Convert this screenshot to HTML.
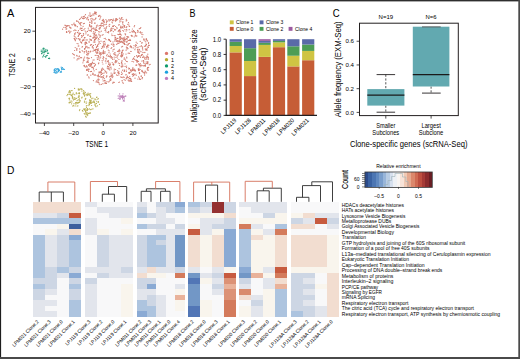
<!DOCTYPE html>
<html><head><meta charset="utf-8">
<style>
html,body{margin:0;padding:0;background:#fff;}
body{width:520px;height:359px;overflow:hidden;position:relative;}
svg{position:absolute;left:0;top:0;font-family:"Liberation Sans",sans-serif;}
</style></head><body>
<svg width="520" height="359" viewBox="0 0 520 359">
<rect x="0" y="0" width="520" height="359" fill="#fff"/>
<text x="7.00" y="16.70" font-size="11.2" textLength="7.30" lengthAdjust="spacingAndGlyphs">A</text>
<rect x="35.5" y="7.4" width="122.7" height="115.6" fill="none" stroke="#231f20" stroke-width="1"/>
<line x1="32.40" y1="31.20" x2="35.50" y2="31.20" stroke="#231f20" stroke-width="0.8"/>
<text x="30.60" y="33.40" font-size="6.2" text-anchor="end">20</text>
<line x1="32.40" y1="59.00" x2="35.50" y2="59.00" stroke="#231f20" stroke-width="0.8"/>
<text x="30.60" y="61.20" font-size="6.2" text-anchor="end">0</text>
<line x1="32.40" y1="86.60" x2="35.50" y2="86.60" stroke="#231f20" stroke-width="0.8"/>
<text x="30.60" y="88.80" font-size="6.2" text-anchor="end">–20</text>
<line x1="32.40" y1="113.90" x2="35.50" y2="113.90" stroke="#231f20" stroke-width="0.8"/>
<text x="30.60" y="116.10" font-size="6.2" text-anchor="end">–40</text>
<line x1="44.40" y1="123.00" x2="44.40" y2="126.00" stroke="#231f20" stroke-width="0.8"/>
<text x="44.40" y="135.00" font-size="6.2" text-anchor="middle">–40</text>
<line x1="73.70" y1="123.00" x2="73.70" y2="126.00" stroke="#231f20" stroke-width="0.8"/>
<text x="73.70" y="135.00" font-size="6.2" text-anchor="middle">–20</text>
<line x1="103.30" y1="123.00" x2="103.30" y2="126.00" stroke="#231f20" stroke-width="0.8"/>
<text x="103.30" y="135.00" font-size="6.2" text-anchor="middle">0</text>
<line x1="132.90" y1="123.00" x2="132.90" y2="126.00" stroke="#231f20" stroke-width="0.8"/>
<text x="132.90" y="135.00" font-size="6.2" text-anchor="middle">20</text>
<text x="14.90" y="65.00" font-size="8.7" text-anchor="middle" textLength="23.40" lengthAdjust="spacingAndGlyphs" transform="rotate(-90 14.90 65.00)">TSNE 2</text>
<text x="96.70" y="146.60" font-size="8.5" text-anchor="middle" textLength="22.60" lengthAdjust="spacingAndGlyphs">TSNE 1</text>
<g fill="#cc6b5d" opacity="0.9">
<circle cx="90.0" cy="22.5" r="0.6"/><circle cx="98.9" cy="72.1" r="0.6"/><circle cx="66.0" cy="27.8" r="0.6"/><circle cx="88.7" cy="71.4" r="0.6"/><circle cx="111.5" cy="56.7" r="0.6"/><circle cx="111.0" cy="57.2" r="0.6"/><circle cx="88.0" cy="70.1" r="0.6"/><circle cx="91.6" cy="44.7" r="0.6"/><circle cx="75.2" cy="47.6" r="0.6"/><circle cx="131.4" cy="71.2" r="0.6"/><circle cx="130.7" cy="72.1" r="0.6"/><circle cx="145.0" cy="46.1" r="0.6"/><circle cx="86.1" cy="39.9" r="0.6"/><circle cx="87.2" cy="39.9" r="0.6"/><circle cx="82.8" cy="40.2" r="0.6"/><circle cx="84.1" cy="40.1" r="0.6"/><circle cx="138.3" cy="31.8" r="0.6"/><circle cx="137.5" cy="32.1" r="0.6"/><circle cx="77.5" cy="32.4" r="0.6"/><circle cx="146.2" cy="61.9" r="0.6"/><circle cx="121.8" cy="52.4" r="0.6"/><circle cx="121.9" cy="53.0" r="0.6"/><circle cx="80.3" cy="23.2" r="0.6"/><circle cx="79.4" cy="23.7" r="0.6"/><circle cx="80.1" cy="39.0" r="0.6"/><circle cx="79.7" cy="39.4" r="0.6"/><circle cx="147.8" cy="46.8" r="0.6"/><circle cx="148.4" cy="47.3" r="0.6"/><circle cx="146.0" cy="50.2" r="0.6"/><circle cx="87.9" cy="58.9" r="0.6"/><circle cx="108.5" cy="68.1" r="0.6"/><circle cx="108.5" cy="69.0" r="0.6"/><circle cx="82.4" cy="41.0" r="0.6"/><circle cx="103.8" cy="25.1" r="0.6"/><circle cx="103.5" cy="26.1" r="0.6"/><circle cx="80.4" cy="28.2" r="0.6"/><circle cx="142.1" cy="36.9" r="0.6"/><circle cx="124.4" cy="26.1" r="0.6"/><circle cx="145.4" cy="64.0" r="0.6"/><circle cx="145.4" cy="65.1" r="0.6"/><circle cx="119.8" cy="36.9" r="0.6"/><circle cx="63.9" cy="27.4" r="0.6"/><circle cx="127.4" cy="77.2" r="0.6"/><circle cx="126.8" cy="77.9" r="0.6"/><circle cx="138.8" cy="68.7" r="0.6"/><circle cx="116.0" cy="20.3" r="0.6"/><circle cx="110.8" cy="29.8" r="0.6"/><circle cx="111.9" cy="29.9" r="0.6"/><circle cx="147.4" cy="56.1" r="0.6"/><circle cx="104.3" cy="80.5" r="0.6"/><circle cx="103.2" cy="80.9" r="0.6"/><circle cx="96.3" cy="34.9" r="0.6"/><circle cx="144.7" cy="58.3" r="0.6"/><circle cx="145.1" cy="59.5" r="0.6"/><circle cx="96.5" cy="47.4" r="0.6"/><circle cx="91.0" cy="25.9" r="0.6"/><circle cx="91.6" cy="26.1" r="0.6"/><circle cx="96.1" cy="49.3" r="0.6"/><circle cx="95.6" cy="49.4" r="0.6"/><circle cx="70.9" cy="31.3" r="0.6"/><circle cx="133.7" cy="73.5" r="0.6"/><circle cx="134.0" cy="74.4" r="0.6"/><circle cx="86.6" cy="70.5" r="0.6"/><circle cx="117.7" cy="70.6" r="0.6"/><circle cx="142.5" cy="57.3" r="0.6"/><circle cx="79.5" cy="34.2" r="0.6"/><circle cx="79.2" cy="34.7" r="0.6"/><circle cx="105.7" cy="83.2" r="0.6"/><circle cx="106.4" cy="83.4" r="0.6"/><circle cx="110.2" cy="76.4" r="0.6"/><circle cx="109.7" cy="76.9" r="0.6"/><circle cx="118.2" cy="41.2" r="0.6"/><circle cx="117.1" cy="41.0" r="0.6"/><circle cx="99.9" cy="15.3" r="0.6"/><circle cx="99.2" cy="15.9" r="0.6"/><circle cx="101.6" cy="23.2" r="0.6"/><circle cx="102.8" cy="23.1" r="0.6"/><circle cx="80.4" cy="24.6" r="0.6"/><circle cx="81.0" cy="25.6" r="0.6"/><circle cx="88.3" cy="28.2" r="0.6"/><circle cx="95.5" cy="35.0" r="0.6"/><circle cx="96.7" cy="35.8" r="0.6"/><circle cx="140.4" cy="57.3" r="0.6"/><circle cx="122.5" cy="70.2" r="0.6"/><circle cx="146.3" cy="38.6" r="0.6"/><circle cx="146.2" cy="39.4" r="0.6"/><circle cx="128.0" cy="48.6" r="0.6"/><circle cx="83.5" cy="16.5" r="0.6"/><circle cx="84.0" cy="17.1" r="0.6"/><circle cx="142.0" cy="32.6" r="0.6"/><circle cx="74.9" cy="29.9" r="0.6"/><circle cx="73.9" cy="30.6" r="0.6"/><circle cx="69.8" cy="27.1" r="0.6"/><circle cx="70.5" cy="27.9" r="0.6"/><circle cx="101.3" cy="31.2" r="0.6"/><circle cx="85.0" cy="37.6" r="0.6"/><circle cx="84.5" cy="37.9" r="0.6"/><circle cx="105.1" cy="44.4" r="0.6"/><circle cx="104.9" cy="45.1" r="0.6"/><circle cx="90.1" cy="36.1" r="0.6"/><circle cx="90.8" cy="36.4" r="0.6"/><circle cx="94.3" cy="40.4" r="0.6"/><circle cx="135.3" cy="32.7" r="0.6"/><circle cx="78.8" cy="38.5" r="0.6"/><circle cx="78.3" cy="38.8" r="0.6"/><circle cx="109.9" cy="64.5" r="0.6"/><circle cx="104.3" cy="78.6" r="0.6"/><circle cx="84.0" cy="65.6" r="0.6"/><circle cx="84.2" cy="66.1" r="0.6"/><circle cx="105.6" cy="71.5" r="0.6"/><circle cx="99.3" cy="51.8" r="0.6"/><circle cx="82.7" cy="30.3" r="0.6"/><circle cx="97.9" cy="49.5" r="0.6"/><circle cx="98.2" cy="50.3" r="0.6"/><circle cx="122.4" cy="50.3" r="0.6"/><circle cx="119.1" cy="43.0" r="0.6"/><circle cx="118.6" cy="43.5" r="0.6"/><circle cx="140.0" cy="46.6" r="0.6"/><circle cx="141.4" cy="45.9" r="0.6"/><circle cx="107.3" cy="61.5" r="0.6"/><circle cx="108.3" cy="61.9" r="0.6"/><circle cx="147.0" cy="57.3" r="0.6"/><circle cx="146.2" cy="57.9" r="0.6"/><circle cx="95.8" cy="28.1" r="0.6"/><circle cx="146.4" cy="59.0" r="0.6"/><circle cx="146.2" cy="63.6" r="0.6"/><circle cx="146.9" cy="63.3" r="0.6"/><circle cx="81.5" cy="42.4" r="0.6"/><circle cx="81.7" cy="43.1" r="0.6"/><circle cx="127.0" cy="48.9" r="0.6"/><circle cx="78.8" cy="45.9" r="0.6"/><circle cx="78.2" cy="46.0" r="0.6"/><circle cx="81.4" cy="42.3" r="0.6"/><circle cx="141.2" cy="76.4" r="0.6"/><circle cx="120.6" cy="39.3" r="0.6"/><circle cx="119.9" cy="39.4" r="0.6"/><circle cx="98.7" cy="76.4" r="0.6"/><circle cx="123.3" cy="26.0" r="0.6"/><circle cx="124.5" cy="26.2" r="0.6"/><circle cx="133.0" cy="67.9" r="0.6"/><circle cx="66.9" cy="26.0" r="0.6"/><circle cx="146.4" cy="56.1" r="0.6"/><circle cx="145.9" cy="57.5" r="0.6"/><circle cx="114.2" cy="70.9" r="0.6"/><circle cx="96.2" cy="29.9" r="0.6"/><circle cx="95.8" cy="30.2" r="0.6"/><circle cx="88.3" cy="62.5" r="0.6"/><circle cx="93.4" cy="69.1" r="0.6"/><circle cx="97.4" cy="59.3" r="0.6"/><circle cx="98.0" cy="59.3" r="0.6"/><circle cx="85.5" cy="17.6" r="0.6"/><circle cx="76.8" cy="20.6" r="0.6"/><circle cx="76.8" cy="21.4" r="0.6"/><circle cx="87.2" cy="53.1" r="0.6"/><circle cx="87.9" cy="53.6" r="0.6"/><circle cx="84.0" cy="29.7" r="0.6"/><circle cx="140.2" cy="28.4" r="0.6"/><circle cx="139.3" cy="28.7" r="0.6"/><circle cx="147.8" cy="54.2" r="0.6"/><circle cx="114.2" cy="57.1" r="0.6"/><circle cx="126.1" cy="78.8" r="0.6"/><circle cx="104.6" cy="41.3" r="0.6"/><circle cx="104.0" cy="41.7" r="0.6"/><circle cx="120.4" cy="42.1" r="0.6"/><circle cx="98.4" cy="74.8" r="0.6"/><circle cx="98.4" cy="75.3" r="0.6"/><circle cx="93.5" cy="68.2" r="0.6"/><circle cx="116.5" cy="39.0" r="0.6"/><circle cx="104.9" cy="70.6" r="0.6"/><circle cx="141.8" cy="34.2" r="0.6"/><circle cx="142.9" cy="34.6" r="0.6"/><circle cx="137.4" cy="57.3" r="0.6"/><circle cx="97.0" cy="49.6" r="0.6"/><circle cx="97.1" cy="49.8" r="0.6"/><circle cx="139.6" cy="73.6" r="0.6"/><circle cx="102.0" cy="73.7" r="0.6"/><circle cx="101.5" cy="74.4" r="0.6"/><circle cx="105.9" cy="24.6" r="0.6"/><circle cx="129.5" cy="68.4" r="0.6"/><circle cx="128.9" cy="69.1" r="0.6"/><circle cx="94.1" cy="70.8" r="0.6"/><circle cx="89.1" cy="64.4" r="0.6"/><circle cx="126.4" cy="71.3" r="0.6"/><circle cx="133.1" cy="70.2" r="0.6"/><circle cx="84.7" cy="48.5" r="0.6"/><circle cx="84.8" cy="49.0" r="0.6"/><circle cx="89.8" cy="39.0" r="0.6"/><circle cx="90.7" cy="39.7" r="0.6"/><circle cx="110.2" cy="54.0" r="0.6"/><circle cx="127.1" cy="38.7" r="0.6"/><circle cx="126.4" cy="38.6" r="0.6"/><circle cx="84.2" cy="58.0" r="0.6"/><circle cx="83.6" cy="59.1" r="0.6"/><circle cx="98.5" cy="38.5" r="0.6"/><circle cx="92.8" cy="19.0" r="0.6"/><circle cx="93.0" cy="19.9" r="0.6"/><circle cx="124.4" cy="44.4" r="0.6"/><circle cx="97.3" cy="30.5" r="0.6"/><circle cx="113.9" cy="53.7" r="0.6"/><circle cx="114.2" cy="54.3" r="0.6"/><circle cx="110.0" cy="80.6" r="0.6"/><circle cx="119.1" cy="42.1" r="0.6"/><circle cx="150.1" cy="64.4" r="0.6"/><circle cx="149.2" cy="64.8" r="0.6"/><circle cx="127.1" cy="45.0" r="0.6"/><circle cx="85.5" cy="14.7" r="0.6"/><circle cx="84.4" cy="16.2" r="0.6"/><circle cx="106.4" cy="24.1" r="0.6"/><circle cx="96.1" cy="55.3" r="0.6"/><circle cx="95.2" cy="55.3" r="0.6"/><circle cx="102.8" cy="73.3" r="0.6"/><circle cx="111.8" cy="34.0" r="0.6"/><circle cx="128.9" cy="25.8" r="0.6"/><circle cx="95.8" cy="29.7" r="0.6"/><circle cx="133.6" cy="58.0" r="0.6"/><circle cx="133.3" cy="58.4" r="0.6"/><circle cx="90.9" cy="30.7" r="0.6"/><circle cx="91.5" cy="31.1" r="0.6"/><circle cx="147.2" cy="48.2" r="0.6"/><circle cx="146.3" cy="49.1" r="0.6"/><circle cx="92.3" cy="63.1" r="0.6"/><circle cx="86.9" cy="43.5" r="0.6"/><circle cx="91.9" cy="18.3" r="0.6"/><circle cx="107.2" cy="54.3" r="0.6"/><circle cx="105.9" cy="19.6" r="0.6"/><circle cx="141.0" cy="66.1" r="0.6"/><circle cx="140.0" cy="66.8" r="0.6"/><circle cx="106.0" cy="39.6" r="0.6"/><circle cx="122.4" cy="56.1" r="0.6"/><circle cx="135.4" cy="60.1" r="0.6"/><circle cx="136.4" cy="60.3" r="0.6"/><circle cx="102.4" cy="76.9" r="0.6"/><circle cx="134.6" cy="56.6" r="0.6"/><circle cx="93.0" cy="28.7" r="0.6"/><circle cx="78.8" cy="22.4" r="0.6"/><circle cx="79.0" cy="58.2" r="0.6"/><circle cx="100.3" cy="27.6" r="0.6"/><circle cx="99.9" cy="28.5" r="0.6"/><circle cx="142.1" cy="42.7" r="0.6"/><circle cx="141.7" cy="43.1" r="0.6"/><circle cx="113.0" cy="28.4" r="0.6"/><circle cx="116.5" cy="18.6" r="0.6"/><circle cx="117.6" cy="19.3" r="0.6"/><circle cx="137.5" cy="49.6" r="0.6"/><circle cx="135.0" cy="78.2" r="0.6"/><circle cx="130.1" cy="80.4" r="0.6"/><circle cx="131.0" cy="80.5" r="0.6"/><circle cx="118.1" cy="72.0" r="0.6"/><circle cx="118.1" cy="72.7" r="0.6"/><circle cx="66.5" cy="31.8" r="0.6"/><circle cx="66.7" cy="31.5" r="0.6"/><circle cx="113.4" cy="19.1" r="0.6"/><circle cx="112.6" cy="20.2" r="0.6"/><circle cx="96.5" cy="27.2" r="0.6"/><circle cx="78.8" cy="58.9" r="0.6"/><circle cx="134.9" cy="69.8" r="0.6"/><circle cx="135.3" cy="70.6" r="0.6"/><circle cx="92.9" cy="73.2" r="0.6"/><circle cx="92.5" cy="74.2" r="0.6"/><circle cx="132.4" cy="70.1" r="0.6"/><circle cx="132.8" cy="70.6" r="0.6"/><circle cx="120.6" cy="38.1" r="0.6"/><circle cx="119.8" cy="38.1" r="0.6"/><circle cx="119.6" cy="29.8" r="0.6"/><circle cx="101.5" cy="69.1" r="0.6"/><circle cx="140.6" cy="56.0" r="0.6"/><circle cx="123.1" cy="50.2" r="0.6"/><circle cx="122.3" cy="51.1" r="0.6"/><circle cx="103.5" cy="52.2" r="0.6"/><circle cx="103.2" cy="52.9" r="0.6"/><circle cx="136.2" cy="45.4" r="0.6"/><circle cx="135.3" cy="46.5" r="0.6"/><circle cx="116.0" cy="61.6" r="0.6"/><circle cx="115.1" cy="61.8" r="0.6"/><circle cx="80.5" cy="41.9" r="0.6"/><circle cx="103.4" cy="50.3" r="0.6"/><circle cx="92.9" cy="47.6" r="0.6"/><circle cx="93.2" cy="48.2" r="0.6"/><circle cx="132.2" cy="35.9" r="0.6"/><circle cx="131.9" cy="36.5" r="0.6"/><circle cx="97.0" cy="51.9" r="0.6"/><circle cx="96.9" cy="52.7" r="0.6"/><circle cx="143.3" cy="56.1" r="0.6"/><circle cx="116.0" cy="57.4" r="0.6"/><circle cx="130.2" cy="78.4" r="0.6"/><circle cx="110.9" cy="30.2" r="0.6"/><circle cx="111.4" cy="30.6" r="0.6"/><circle cx="142.4" cy="47.9" r="0.6"/><circle cx="122.9" cy="41.4" r="0.6"/><circle cx="103.2" cy="41.9" r="0.6"/><circle cx="117.4" cy="43.2" r="0.6"/><circle cx="124.9" cy="29.6" r="0.6"/><circle cx="122.8" cy="22.1" r="0.6"/><circle cx="120.8" cy="76.9" r="0.6"/><circle cx="119.0" cy="71.8" r="0.6"/><circle cx="146.6" cy="72.8" r="0.6"/><circle cx="102.9" cy="23.5" r="0.6"/><circle cx="99.0" cy="39.5" r="0.6"/><circle cx="98.1" cy="40.0" r="0.6"/><circle cx="148.1" cy="63.0" r="0.6"/><circle cx="147.5" cy="63.7" r="0.6"/><circle cx="83.7" cy="39.3" r="0.6"/><circle cx="83.1" cy="40.4" r="0.6"/><circle cx="85.0" cy="42.9" r="0.6"/><circle cx="147.8" cy="69.9" r="0.6"/><circle cx="148.1" cy="70.3" r="0.6"/><circle cx="128.1" cy="80.1" r="0.6"/><circle cx="124.1" cy="79.6" r="0.6"/><circle cx="132.7" cy="68.2" r="0.6"/><circle cx="135.3" cy="35.2" r="0.6"/><circle cx="123.3" cy="37.8" r="0.6"/><circle cx="124.3" cy="38.8" r="0.6"/><circle cx="95.1" cy="19.3" r="0.6"/><circle cx="94.1" cy="19.8" r="0.6"/><circle cx="104.9" cy="53.2" r="0.6"/><circle cx="103.9" cy="53.4" r="0.6"/><circle cx="115.6" cy="21.1" r="0.6"/><circle cx="94.7" cy="63.3" r="0.6"/><circle cx="93.6" cy="63.3" r="0.6"/><circle cx="84.2" cy="52.8" r="0.6"/><circle cx="101.2" cy="23.3" r="0.6"/><circle cx="84.5" cy="37.5" r="0.6"/><circle cx="124.1" cy="59.2" r="0.6"/><circle cx="125.0" cy="59.0" r="0.6"/><circle cx="87.8" cy="55.1" r="0.6"/><circle cx="94.6" cy="39.4" r="0.6"/><circle cx="95.3" cy="39.7" r="0.6"/><circle cx="144.6" cy="75.1" r="0.6"/><circle cx="95.4" cy="13.4" r="0.6"/><circle cx="103.8" cy="57.5" r="0.6"/><circle cx="101.8" cy="76.9" r="0.6"/><circle cx="101.1" cy="77.2" r="0.6"/><circle cx="136.0" cy="36.2" r="0.6"/><circle cx="104.3" cy="22.3" r="0.6"/><circle cx="111.1" cy="73.1" r="0.6"/><circle cx="91.8" cy="21.7" r="0.6"/><circle cx="92.9" cy="14.2" r="0.6"/><circle cx="93.8" cy="15.1" r="0.6"/><circle cx="124.7" cy="25.8" r="0.6"/><circle cx="128.8" cy="24.0" r="0.6"/><circle cx="112.7" cy="26.3" r="0.6"/><circle cx="142.6" cy="48.9" r="0.6"/><circle cx="142.8" cy="50.0" r="0.6"/><circle cx="141.2" cy="46.0" r="0.6"/><circle cx="142.7" cy="46.9" r="0.6"/><circle cx="112.2" cy="74.2" r="0.6"/><circle cx="112.6" cy="75.2" r="0.6"/><circle cx="134.3" cy="74.6" r="0.6"/><circle cx="133.6" cy="75.3" r="0.6"/><circle cx="83.0" cy="18.2" r="0.6"/><circle cx="142.8" cy="65.6" r="0.6"/><circle cx="143.6" cy="65.8" r="0.6"/><circle cx="106.0" cy="31.9" r="0.6"/><circle cx="82.1" cy="28.2" r="0.6"/><circle cx="81.5" cy="28.4" r="0.6"/><circle cx="99.0" cy="73.1" r="0.6"/><circle cx="91.9" cy="28.6" r="0.6"/><circle cx="91.4" cy="29.5" r="0.6"/><circle cx="97.4" cy="52.2" r="0.6"/><circle cx="96.9" cy="53.4" r="0.6"/><circle cx="117.3" cy="38.4" r="0.6"/><circle cx="147.6" cy="67.8" r="0.6"/><circle cx="147.2" cy="68.9" r="0.6"/><circle cx="118.5" cy="30.6" r="0.6"/><circle cx="118.2" cy="31.5" r="0.6"/><circle cx="62.6" cy="29.2" r="0.6"/><circle cx="145.3" cy="48.9" r="0.6"/><circle cx="146.3" cy="49.5" r="0.6"/><circle cx="139.5" cy="78.1" r="0.6"/><circle cx="140.1" cy="79.3" r="0.6"/><circle cx="122.6" cy="27.3" r="0.6"/><circle cx="123.1" cy="28.0" r="0.6"/><circle cx="103.1" cy="34.6" r="0.6"/><circle cx="147.1" cy="40.4" r="0.6"/><circle cx="147.6" cy="41.0" r="0.6"/><circle cx="110.4" cy="55.7" r="0.6"/><circle cx="110.1" cy="56.6" r="0.6"/><circle cx="71.1" cy="28.0" r="0.6"/><circle cx="79.5" cy="56.1" r="0.6"/><circle cx="79.0" cy="56.3" r="0.6"/><circle cx="103.7" cy="69.3" r="0.6"/><circle cx="110.4" cy="20.0" r="0.6"/><circle cx="109.8" cy="19.8" r="0.6"/><circle cx="115.4" cy="39.2" r="0.6"/><circle cx="114.9" cy="39.9" r="0.6"/><circle cx="114.3" cy="59.0" r="0.6"/><circle cx="101.0" cy="24.9" r="0.6"/><circle cx="100.5" cy="25.7" r="0.6"/><circle cx="114.6" cy="29.3" r="0.6"/><circle cx="115.7" cy="29.6" r="0.6"/><circle cx="111.8" cy="47.6" r="0.6"/><circle cx="111.1" cy="48.4" r="0.6"/><circle cx="96.0" cy="37.4" r="0.6"/><circle cx="96.1" cy="38.4" r="0.6"/><circle cx="106.1" cy="59.1" r="0.6"/><circle cx="100.7" cy="57.0" r="0.6"/><circle cx="100.1" cy="57.9" r="0.6"/><circle cx="77.5" cy="58.8" r="0.6"/><circle cx="77.0" cy="59.9" r="0.6"/><circle cx="75.4" cy="32.9" r="0.6"/><circle cx="117.1" cy="55.2" r="0.6"/><circle cx="117.2" cy="56.2" r="0.6"/><circle cx="110.6" cy="78.5" r="0.6"/><circle cx="110.1" cy="79.3" r="0.6"/><circle cx="110.4" cy="31.1" r="0.6"/><circle cx="76.8" cy="49.4" r="0.6"/><circle cx="76.8" cy="50.3" r="0.6"/><circle cx="90.1" cy="63.8" r="0.6"/><circle cx="90.7" cy="64.0" r="0.6"/><circle cx="66.7" cy="25.8" r="0.6"/><circle cx="67.5" cy="25.6" r="0.6"/><circle cx="66.7" cy="28.8" r="0.6"/><circle cx="88.7" cy="76.9" r="0.6"/><circle cx="89.1" cy="77.9" r="0.6"/><circle cx="82.7" cy="40.3" r="0.6"/><circle cx="94.8" cy="11.8" r="0.6"/><circle cx="95.3" cy="12.3" r="0.6"/><circle cx="119.4" cy="82.0" r="0.6"/><circle cx="118.8" cy="82.5" r="0.6"/><circle cx="120.4" cy="36.7" r="0.6"/><circle cx="109.7" cy="68.8" r="0.6"/><circle cx="109.7" cy="69.9" r="0.6"/><circle cx="97.2" cy="57.8" r="0.6"/><circle cx="137.0" cy="61.0" r="0.6"/><circle cx="137.1" cy="61.5" r="0.6"/><circle cx="107.0" cy="20.9" r="0.6"/><circle cx="126.5" cy="67.6" r="0.6"/><circle cx="96.0" cy="18.0" r="0.6"/><circle cx="142.0" cy="70.4" r="0.6"/><circle cx="142.6" cy="71.3" r="0.6"/><circle cx="97.4" cy="37.1" r="0.6"/><circle cx="96.6" cy="38.1" r="0.6"/><circle cx="119.7" cy="37.1" r="0.6"/><circle cx="120.9" cy="37.4" r="0.6"/><circle cx="87.4" cy="31.4" r="0.6"/><circle cx="75.4" cy="25.6" r="0.6"/><circle cx="75.9" cy="25.9" r="0.6"/><circle cx="111.7" cy="28.1" r="0.6"/><circle cx="111.1" cy="28.4" r="0.6"/><circle cx="130.0" cy="32.4" r="0.6"/><circle cx="147.8" cy="62.0" r="0.6"/><circle cx="123.4" cy="40.7" r="0.6"/><circle cx="99.0" cy="79.3" r="0.6"/><circle cx="98.8" cy="80.0" r="0.6"/><circle cx="130.3" cy="47.1" r="0.6"/><circle cx="84.6" cy="51.7" r="0.6"/><circle cx="93.4" cy="42.0" r="0.6"/><circle cx="104.5" cy="46.9" r="0.6"/><circle cx="118.4" cy="63.0" r="0.6"/><circle cx="91.5" cy="71.4" r="0.6"/><circle cx="90.5" cy="71.6" r="0.6"/><circle cx="129.5" cy="72.6" r="0.6"/><circle cx="88.5" cy="19.3" r="0.6"/><circle cx="88.3" cy="20.1" r="0.6"/><circle cx="111.5" cy="19.5" r="0.6"/><circle cx="110.9" cy="19.7" r="0.6"/><circle cx="70.0" cy="32.3" r="0.6"/><circle cx="69.6" cy="32.9" r="0.6"/><circle cx="74.3" cy="38.4" r="0.6"/><circle cx="115.7" cy="39.2" r="0.6"/><circle cx="116.1" cy="40.0" r="0.6"/><circle cx="112.3" cy="57.5" r="0.6"/><circle cx="111.1" cy="57.8" r="0.6"/><circle cx="88.0" cy="54.3" r="0.6"/><circle cx="117.7" cy="41.0" r="0.6"/><circle cx="94.1" cy="13.7" r="0.6"/><circle cx="94.7" cy="13.6" r="0.6"/><circle cx="125.5" cy="39.3" r="0.6"/><circle cx="90.4" cy="45.3" r="0.6"/><circle cx="121.3" cy="55.9" r="0.6"/><circle cx="121.2" cy="56.6" r="0.6"/><circle cx="138.1" cy="50.8" r="0.6"/><circle cx="122.9" cy="21.8" r="0.6"/><circle cx="122.6" cy="22.9" r="0.6"/><circle cx="84.9" cy="28.5" r="0.6"/><circle cx="84.2" cy="18.4" r="0.6"/><circle cx="83.4" cy="18.7" r="0.6"/><circle cx="126.4" cy="78.0" r="0.6"/><circle cx="106.6" cy="73.1" r="0.6"/><circle cx="102.3" cy="62.1" r="0.6"/><circle cx="116.5" cy="41.2" r="0.6"/><circle cx="80.6" cy="33.4" r="0.6"/><circle cx="138.3" cy="52.5" r="0.6"/><circle cx="139.1" cy="52.8" r="0.6"/><circle cx="95.0" cy="65.4" r="0.6"/><circle cx="94.4" cy="66.2" r="0.6"/><circle cx="143.2" cy="60.7" r="0.6"/><circle cx="143.8" cy="61.5" r="0.6"/><circle cx="131.6" cy="47.6" r="0.6"/><circle cx="87.4" cy="61.7" r="0.6"/><circle cx="87.1" cy="62.2" r="0.6"/><circle cx="85.4" cy="44.3" r="0.6"/><circle cx="138.6" cy="70.1" r="0.6"/><circle cx="114.5" cy="73.5" r="0.6"/><circle cx="146.1" cy="49.5" r="0.6"/><circle cx="146.4" cy="49.8" r="0.6"/><circle cx="75.8" cy="37.8" r="0.6"/><circle cx="76.7" cy="38.6" r="0.6"/><circle cx="104.3" cy="28.2" r="0.6"/><circle cx="85.2" cy="31.1" r="0.6"/><circle cx="86.0" cy="32.2" r="0.6"/><circle cx="142.5" cy="77.6" r="0.6"/><circle cx="118.0" cy="38.3" r="0.6"/><circle cx="117.4" cy="38.5" r="0.6"/><circle cx="93.4" cy="74.1" r="0.6"/><circle cx="104.2" cy="38.5" r="0.6"/><circle cx="121.0" cy="41.0" r="0.6"/><circle cx="121.0" cy="41.7" r="0.6"/><circle cx="88.6" cy="65.2" r="0.6"/><circle cx="89.1" cy="64.9" r="0.6"/><circle cx="93.4" cy="45.4" r="0.6"/><circle cx="92.5" cy="46.3" r="0.6"/><circle cx="141.0" cy="51.7" r="0.6"/><circle cx="140.5" cy="31.8" r="0.6"/><circle cx="133.6" cy="75.5" r="0.6"/><circle cx="132.8" cy="76.2" r="0.6"/><circle cx="89.9" cy="12.9" r="0.6"/><circle cx="90.0" cy="14.1" r="0.6"/><circle cx="92.0" cy="15.6" r="0.6"/><circle cx="91.1" cy="15.4" r="0.6"/><circle cx="96.7" cy="80.9" r="0.6"/><circle cx="89.0" cy="41.8" r="0.6"/><circle cx="89.2" cy="42.1" r="0.6"/><circle cx="93.0" cy="37.5" r="0.6"/><circle cx="93.0" cy="38.3" r="0.6"/><circle cx="91.1" cy="65.7" r="0.6"/><circle cx="90.3" cy="66.0" r="0.6"/><circle cx="109.8" cy="63.0" r="0.6"/><circle cx="110.3" cy="64.1" r="0.6"/><circle cx="117.1" cy="40.9" r="0.6"/><circle cx="109.3" cy="26.4" r="0.6"/><circle cx="141.2" cy="75.8" r="0.6"/><circle cx="100.4" cy="75.0" r="0.6"/><circle cx="102.2" cy="35.2" r="0.6"/><circle cx="118.0" cy="40.9" r="0.6"/><circle cx="119.5" cy="40.9" r="0.6"/><circle cx="116.5" cy="27.8" r="0.6"/><circle cx="117.3" cy="28.1" r="0.6"/><circle cx="98.7" cy="31.7" r="0.6"/><circle cx="99.8" cy="31.9" r="0.6"/><circle cx="84.8" cy="66.6" r="0.6"/><circle cx="85.5" cy="67.0" r="0.6"/><circle cx="121.9" cy="55.3" r="0.6"/><circle cx="122.5" cy="55.4" r="0.6"/><circle cx="100.3" cy="43.5" r="0.6"/><circle cx="122.0" cy="17.6" r="0.6"/><circle cx="121.5" cy="18.9" r="0.6"/><circle cx="113.2" cy="26.3" r="0.6"/><circle cx="99.7" cy="19.2" r="0.6"/><circle cx="147.4" cy="50.0" r="0.6"/><circle cx="127.1" cy="47.9" r="0.6"/><circle cx="81.3" cy="17.3" r="0.6"/><circle cx="130.8" cy="81.2" r="0.6"/><circle cx="131.6" cy="81.4" r="0.6"/><circle cx="138.6" cy="63.8" r="0.6"/><circle cx="139.2" cy="64.9" r="0.6"/><circle cx="138.9" cy="70.6" r="0.6"/><circle cx="122.8" cy="65.1" r="0.6"/><circle cx="124.9" cy="41.1" r="0.6"/><circle cx="124.4" cy="41.8" r="0.6"/><circle cx="102.9" cy="58.3" r="0.6"/><circle cx="103.4" cy="59.8" r="0.6"/><circle cx="127.0" cy="39.3" r="0.6"/><circle cx="121.4" cy="35.0" r="0.6"/><circle cx="135.8" cy="74.1" r="0.6"/><circle cx="136.2" cy="75.3" r="0.6"/><circle cx="108.3" cy="50.1" r="0.6"/><circle cx="134.0" cy="45.6" r="0.6"/><circle cx="99.0" cy="41.5" r="0.6"/><circle cx="99.4" cy="42.0" r="0.6"/><circle cx="120.5" cy="31.5" r="0.6"/><circle cx="119.3" cy="31.8" r="0.6"/><circle cx="128.5" cy="22.5" r="0.6"/><circle cx="94.0" cy="36.2" r="0.6"/><circle cx="94.6" cy="37.1" r="0.6"/><circle cx="88.3" cy="51.4" r="0.6"/><circle cx="88.7" cy="51.8" r="0.6"/><circle cx="130.8" cy="78.9" r="0.6"/><circle cx="131.0" cy="79.5" r="0.6"/><circle cx="114.9" cy="30.2" r="0.6"/><circle cx="124.8" cy="39.0" r="0.6"/><circle cx="95.3" cy="49.8" r="0.6"/><circle cx="94.9" cy="50.4" r="0.6"/><circle cx="143.7" cy="62.7" r="0.6"/><circle cx="144.1" cy="63.5" r="0.6"/><circle cx="106.7" cy="72.1" r="0.6"/><circle cx="122.1" cy="52.0" r="0.6"/><circle cx="121.7" cy="52.7" r="0.6"/><circle cx="128.2" cy="53.2" r="0.6"/><circle cx="138.4" cy="51.9" r="0.6"/><circle cx="137.8" cy="52.2" r="0.6"/><circle cx="89.6" cy="25.4" r="0.6"/><circle cx="120.2" cy="33.1" r="0.6"/><circle cx="120.1" cy="34.3" r="0.6"/><circle cx="132.3" cy="74.2" r="0.6"/><circle cx="132.5" cy="74.4" r="0.6"/><circle cx="119.6" cy="63.5" r="0.6"/><circle cx="142.9" cy="52.4" r="0.6"/><circle cx="145.7" cy="71.9" r="0.6"/><circle cx="124.2" cy="69.9" r="0.6"/><circle cx="124.5" cy="71.0" r="0.6"/><circle cx="133.2" cy="47.9" r="0.6"/><circle cx="105.8" cy="60.8" r="0.6"/><circle cx="105.3" cy="61.0" r="0.6"/><circle cx="107.4" cy="45.7" r="0.6"/><circle cx="120.1" cy="30.1" r="0.6"/><circle cx="119.6" cy="30.7" r="0.6"/><circle cx="135.6" cy="32.8" r="0.6"/><circle cx="125.0" cy="33.8" r="0.6"/><circle cx="125.6" cy="34.1" r="0.6"/><circle cx="95.7" cy="14.0" r="0.6"/><circle cx="96.5" cy="14.0" r="0.6"/><circle cx="75.2" cy="24.9" r="0.6"/><circle cx="74.8" cy="25.7" r="0.6"/><circle cx="107.7" cy="32.4" r="0.6"/><circle cx="108.6" cy="32.8" r="0.6"/><circle cx="85.9" cy="33.8" r="0.6"/><circle cx="128.4" cy="77.6" r="0.6"/><circle cx="129.4" cy="78.4" r="0.6"/><circle cx="90.9" cy="44.6" r="0.6"/><circle cx="134.4" cy="70.7" r="0.6"/><circle cx="135.4" cy="71.0" r="0.6"/><circle cx="72.7" cy="53.6" r="0.6"/><circle cx="73.4" cy="54.3" r="0.6"/><circle cx="118.5" cy="73.0" r="0.6"/><circle cx="119.1" cy="73.4" r="0.6"/><circle cx="108.6" cy="19.8" r="0.6"/><circle cx="109.2" cy="20.9" r="0.6"/><circle cx="86.6" cy="52.1" r="0.6"/><circle cx="82.4" cy="18.5" r="0.6"/><circle cx="112.2" cy="62.5" r="0.6"/><circle cx="116.6" cy="19.5" r="0.6"/><circle cx="114.3" cy="69.2" r="0.6"/><circle cx="70.0" cy="27.6" r="0.6"/><circle cx="102.7" cy="79.0" r="0.6"/><circle cx="129.6" cy="26.4" r="0.6"/><circle cx="90.4" cy="16.3" r="0.6"/><circle cx="124.7" cy="37.2" r="0.6"/><circle cx="105.8" cy="30.1" r="0.6"/><circle cx="105.1" cy="30.4" r="0.6"/><circle cx="100.1" cy="71.7" r="0.6"/><circle cx="99.7" cy="72.4" r="0.6"/><circle cx="130.6" cy="70.3" r="0.6"/><circle cx="139.2" cy="53.4" r="0.6"/><circle cx="122.1" cy="80.5" r="0.6"/><circle cx="122.2" cy="81.0" r="0.6"/><circle cx="113.7" cy="73.0" r="0.6"/><circle cx="114.9" cy="73.2" r="0.6"/><circle cx="98.1" cy="55.7" r="0.6"/><circle cx="98.8" cy="56.3" r="0.6"/><circle cx="140.2" cy="41.4" r="0.6"/><circle cx="93.2" cy="28.0" r="0.6"/><circle cx="93.9" cy="28.1" r="0.6"/><circle cx="96.1" cy="12.4" r="0.6"/><circle cx="119.6" cy="65.3" r="0.6"/><circle cx="120.9" cy="21.2" r="0.6"/><circle cx="119.8" cy="22.0" r="0.6"/><circle cx="94.0" cy="59.9" r="0.6"/><circle cx="93.0" cy="60.0" r="0.6"/><circle cx="138.6" cy="76.9" r="0.6"/><circle cx="139.9" cy="65.1" r="0.6"/><circle cx="141.2" cy="65.0" r="0.6"/><circle cx="74.4" cy="54.9" r="0.6"/><circle cx="148.2" cy="57.5" r="0.6"/><circle cx="148.2" cy="58.7" r="0.6"/><circle cx="148.2" cy="59.5" r="0.6"/><circle cx="135.2" cy="48.0" r="0.6"/><circle cx="106.9" cy="75.9" r="0.6"/><circle cx="142.0" cy="54.6" r="0.6"/><circle cx="141.4" cy="55.4" r="0.6"/><circle cx="103.3" cy="56.5" r="0.6"/><circle cx="103.5" cy="57.8" r="0.6"/><circle cx="103.2" cy="19.4" r="0.6"/><circle cx="103.4" cy="20.2" r="0.6"/><circle cx="86.5" cy="50.8" r="0.6"/><circle cx="86.1" cy="51.0" r="0.6"/><circle cx="87.2" cy="57.4" r="0.6"/><circle cx="87.0" cy="58.1" r="0.6"/><circle cx="114.9" cy="37.9" r="0.6"/><circle cx="114.9" cy="72.5" r="0.6"/><circle cx="125.1" cy="66.4" r="0.6"/><circle cx="127.0" cy="36.5" r="0.6"/><circle cx="127.2" cy="36.9" r="0.6"/><circle cx="126.2" cy="41.8" r="0.6"/><circle cx="126.8" cy="42.2" r="0.6"/><circle cx="136.6" cy="60.1" r="0.6"/><circle cx="137.2" cy="60.7" r="0.6"/><circle cx="121.2" cy="66.7" r="0.6"/><circle cx="133.7" cy="58.7" r="0.6"/><circle cx="134.4" cy="59.3" r="0.6"/><circle cx="134.4" cy="31.7" r="0.6"/><circle cx="111.8" cy="76.7" r="0.6"/><circle cx="135.7" cy="35.2" r="0.6"/><circle cx="106.1" cy="83.2" r="0.6"/><circle cx="81.6" cy="57.7" r="0.6"/><circle cx="80.6" cy="57.7" r="0.6"/><circle cx="112.8" cy="64.0" r="0.6"/><circle cx="99.1" cy="15.7" r="0.6"/><circle cx="98.5" cy="16.4" r="0.6"/><circle cx="104.4" cy="21.1" r="0.6"/><circle cx="103.5" cy="21.6" r="0.6"/><circle cx="130.4" cy="69.9" r="0.6"/><circle cx="135.6" cy="33.0" r="0.6"/><circle cx="66.8" cy="26.4" r="0.6"/><circle cx="109.0" cy="52.7" r="0.6"/><circle cx="122.6" cy="42.5" r="0.6"/><circle cx="130.4" cy="45.9" r="0.6"/><circle cx="106.8" cy="26.5" r="0.6"/><circle cx="106.2" cy="27.6" r="0.6"/><circle cx="107.2" cy="68.1" r="0.6"/><circle cx="107.9" cy="68.7" r="0.6"/><circle cx="126.1" cy="50.2" r="0.6"/><circle cx="140.0" cy="51.0" r="0.6"/><circle cx="102.4" cy="68.2" r="0.6"/><circle cx="100.5" cy="53.1" r="0.6"/><circle cx="100.2" cy="53.7" r="0.6"/><circle cx="118.8" cy="74.9" r="0.6"/><circle cx="115.4" cy="19.9" r="0.6"/><circle cx="115.1" cy="20.6" r="0.6"/><circle cx="96.2" cy="69.4" r="0.6"/><circle cx="66.1" cy="29.2" r="0.6"/><circle cx="113.0" cy="41.9" r="0.6"/><circle cx="124.2" cy="25.5" r="0.6"/><circle cx="146.5" cy="39.6" r="0.6"/><circle cx="115.6" cy="69.5" r="0.6"/><circle cx="102.1" cy="60.5" r="0.6"/><circle cx="102.3" cy="20.4" r="0.6"/><circle cx="121.5" cy="17.9" r="0.6"/><circle cx="93.2" cy="33.2" r="0.6"/><circle cx="94.4" cy="33.9" r="0.6"/><circle cx="122.5" cy="55.2" r="0.6"/><circle cx="122.6" cy="55.6" r="0.6"/><circle cx="126.3" cy="70.0" r="0.6"/><circle cx="122.4" cy="73.8" r="0.6"/><circle cx="121.4" cy="74.4" r="0.6"/><circle cx="95.1" cy="23.0" r="0.6"/><circle cx="128.7" cy="72.9" r="0.6"/><circle cx="129.4" cy="73.3" r="0.6"/><circle cx="139.5" cy="79.0" r="0.6"/><circle cx="140.3" cy="79.3" r="0.6"/><circle cx="136.2" cy="42.2" r="0.6"/><circle cx="137.2" cy="43.3" r="0.6"/><circle cx="119.1" cy="50.9" r="0.6"/><circle cx="118.4" cy="51.0" r="0.6"/><circle cx="140.3" cy="63.7" r="0.6"/><circle cx="139.3" cy="64.4" r="0.6"/><circle cx="122.3" cy="66.1" r="0.6"/><circle cx="122.9" cy="66.5" r="0.6"/><circle cx="118.4" cy="54.8" r="0.6"/><circle cx="105.2" cy="82.8" r="0.6"/><circle cx="104.8" cy="83.1" r="0.6"/><circle cx="123.0" cy="24.3" r="0.6"/><circle cx="79.8" cy="40.2" r="0.6"/><circle cx="91.5" cy="57.6" r="0.6"/><circle cx="119.8" cy="34.3" r="0.6"/><circle cx="120.6" cy="34.6" r="0.6"/><circle cx="119.2" cy="53.5" r="0.6"/><circle cx="93.0" cy="51.2" r="0.6"/><circle cx="94.0" cy="49.9" r="0.6"/><circle cx="128.9" cy="80.2" r="0.6"/><circle cx="95.3" cy="38.0" r="0.6"/><circle cx="95.7" cy="38.8" r="0.6"/><circle cx="85.7" cy="46.2" r="0.6"/><circle cx="86.9" cy="46.4" r="0.6"/><circle cx="104.1" cy="24.3" r="0.6"/><circle cx="85.0" cy="44.1" r="0.6"/><circle cx="111.1" cy="75.2" r="0.6"/><circle cx="111.7" cy="75.7" r="0.6"/><circle cx="69.4" cy="31.0" r="0.6"/><circle cx="68.5" cy="31.2" r="0.6"/><circle cx="86.6" cy="69.5" r="0.6"/><circle cx="119.3" cy="49.3" r="0.6"/><circle cx="119.1" cy="68.6" r="0.6"/><circle cx="145.2" cy="65.3" r="0.6"/><circle cx="145.2" cy="66.3" r="0.6"/><circle cx="125.9" cy="44.5" r="0.6"/><circle cx="88.2" cy="34.8" r="0.6"/><circle cx="82.5" cy="46.6" r="0.6"/><circle cx="82.0" cy="47.1" r="0.6"/><circle cx="88.8" cy="68.8" r="0.6"/><circle cx="89.1" cy="69.5" r="0.6"/><circle cx="94.7" cy="23.2" r="0.6"/><circle cx="103.2" cy="51.7" r="0.6"/><circle cx="104.0" cy="51.9" r="0.6"/><circle cx="112.9" cy="76.7" r="0.6"/><circle cx="134.2" cy="69.1" r="0.6"/><circle cx="133.8" cy="69.7" r="0.6"/><circle cx="145.1" cy="41.0" r="0.6"/><circle cx="127.8" cy="24.3" r="0.6"/><circle cx="132.7" cy="59.5" r="0.6"/><circle cx="121.5" cy="38.6" r="0.6"/><circle cx="95.1" cy="74.5" r="0.6"/><circle cx="95.1" cy="75.4" r="0.6"/><circle cx="122.5" cy="26.9" r="0.6"/><circle cx="121.4" cy="27.1" r="0.6"/><circle cx="119.2" cy="24.7" r="0.6"/><circle cx="118.6" cy="25.0" r="0.6"/><circle cx="97.7" cy="82.0" r="0.6"/><circle cx="105.3" cy="38.3" r="0.6"/><circle cx="106.6" cy="76.2" r="0.6"/><circle cx="106.3" cy="77.1" r="0.6"/><circle cx="91.6" cy="67.0" r="0.6"/><circle cx="92.4" cy="67.4" r="0.6"/><circle cx="129.2" cy="72.4" r="0.6"/><circle cx="88.4" cy="30.0" r="0.6"/><circle cx="113.4" cy="26.2" r="0.6"/><circle cx="83.4" cy="23.7" r="0.6"/><circle cx="74.2" cy="35.9" r="0.6"/><circle cx="74.9" cy="36.6" r="0.6"/><circle cx="122.8" cy="30.5" r="0.6"/><circle cx="123.6" cy="31.1" r="0.6"/><circle cx="122.9" cy="39.5" r="0.6"/><circle cx="132.8" cy="69.5" r="0.6"/><circle cx="135.7" cy="44.7" r="0.6"/><circle cx="136.0" cy="45.6" r="0.6"/><circle cx="101.6" cy="25.9" r="0.6"/><circle cx="84.4" cy="23.3" r="0.6"/><circle cx="121.5" cy="62.7" r="0.6"/><circle cx="121.9" cy="63.3" r="0.6"/><circle cx="87.8" cy="35.2" r="0.6"/><circle cx="102.3" cy="25.6" r="0.6"/><circle cx="122.6" cy="46.3" r="0.6"/><circle cx="121.7" cy="46.9" r="0.6"/><circle cx="84.1" cy="60.3" r="0.6"/><circle cx="98.8" cy="62.9" r="0.6"/><circle cx="98.5" cy="63.7" r="0.6"/><circle cx="144.9" cy="52.4" r="0.6"/><circle cx="129.6" cy="43.3" r="0.6"/><circle cx="141.9" cy="61.1" r="0.6"/><circle cx="114.9" cy="41.2" r="0.6"/><circle cx="91.3" cy="20.5" r="0.6"/><circle cx="125.1" cy="39.8" r="0.6"/><circle cx="102.9" cy="64.0" r="0.6"/><circle cx="137.9" cy="49.2" r="0.6"/><circle cx="122.8" cy="82.5" r="0.6"/><circle cx="123.2" cy="83.3" r="0.6"/><circle cx="82.5" cy="36.1" r="0.6"/><circle cx="81.7" cy="37.5" r="0.6"/><circle cx="133.6" cy="30.6" r="0.6"/><circle cx="134.1" cy="31.9" r="0.6"/><circle cx="128.4" cy="68.0" r="0.6"/><circle cx="74.7" cy="33.6" r="0.6"/><circle cx="74.8" cy="34.4" r="0.6"/><circle cx="134.2" cy="36.8" r="0.6"/><circle cx="144.8" cy="65.7" r="0.6"/><circle cx="145.7" cy="45.7" r="0.6"/><circle cx="144.8" cy="46.5" r="0.6"/><circle cx="82.0" cy="16.8" r="0.6"/><circle cx="118.5" cy="34.6" r="0.6"/><circle cx="117.9" cy="34.3" r="0.6"/><circle cx="141.1" cy="65.5" r="0.6"/><circle cx="140.3" cy="65.3" r="0.6"/><circle cx="79.7" cy="51.3" r="0.6"/><circle cx="77.4" cy="32.5" r="0.6"/><circle cx="78.3" cy="33.1" r="0.6"/><circle cx="144.8" cy="65.3" r="0.6"/><circle cx="79.6" cy="33.2" r="0.6"/><circle cx="79.3" cy="34.1" r="0.6"/><circle cx="138.7" cy="55.8" r="0.6"/><circle cx="138.4" cy="56.4" r="0.6"/><circle cx="110.1" cy="67.3" r="0.6"/><circle cx="111.0" cy="67.2" r="0.6"/><circle cx="125.0" cy="63.8" r="0.6"/><circle cx="74.1" cy="57.8" r="0.6"/><circle cx="85.6" cy="42.0" r="0.6"/><circle cx="86.4" cy="42.4" r="0.6"/><circle cx="130.9" cy="51.3" r="0.6"/><circle cx="113.5" cy="64.0" r="0.6"/><circle cx="113.3" cy="64.4" r="0.6"/><circle cx="100.5" cy="17.8" r="0.6"/><circle cx="89.6" cy="24.4" r="0.6"/><circle cx="83.1" cy="26.3" r="0.6"/><circle cx="88.6" cy="58.2" r="0.6"/><circle cx="89.2" cy="58.3" r="0.6"/><circle cx="103.9" cy="43.6" r="0.6"/><circle cx="103.8" cy="44.3" r="0.6"/><circle cx="106.2" cy="28.2" r="0.6"/><circle cx="105.4" cy="29.1" r="0.6"/><circle cx="92.5" cy="62.0" r="0.6"/><circle cx="92.4" cy="62.6" r="0.6"/><circle cx="131.3" cy="46.4" r="0.6"/><circle cx="130.3" cy="46.3" r="0.6"/><circle cx="117.0" cy="60.9" r="0.6"/><circle cx="116.4" cy="62.0" r="0.6"/><circle cx="110.4" cy="41.4" r="0.6"/><circle cx="147.7" cy="56.6" r="0.6"/><circle cx="148.2" cy="57.3" r="0.6"/><circle cx="131.2" cy="35.5" r="0.6"/><circle cx="131.6" cy="35.4" r="0.6"/><circle cx="140.0" cy="32.4" r="0.6"/><circle cx="140.8" cy="32.9" r="0.6"/><circle cx="84.4" cy="65.3" r="0.6"/><circle cx="100.2" cy="25.6" r="0.6"/><circle cx="99.8" cy="25.6" r="0.6"/><circle cx="124.3" cy="57.9" r="0.6"/><circle cx="93.4" cy="80.6" r="0.6"/><circle cx="96.4" cy="30.2" r="0.6"/><circle cx="140.2" cy="69.5" r="0.6"/><circle cx="131.0" cy="51.5" r="0.6"/><circle cx="91.5" cy="40.5" r="0.6"/><circle cx="73.6" cy="24.0" r="0.6"/><circle cx="74.8" cy="24.4" r="0.6"/><circle cx="144.3" cy="72.9" r="0.6"/><circle cx="144.7" cy="73.8" r="0.6"/><circle cx="144.3" cy="57.2" r="0.6"/><circle cx="143.4" cy="57.1" r="0.6"/><circle cx="113.0" cy="35.5" r="0.6"/><circle cx="112.0" cy="35.6" r="0.6"/><circle cx="105.1" cy="72.1" r="0.6"/><circle cx="142.3" cy="54.3" r="0.6"/><circle cx="141.7" cy="55.1" r="0.6"/><circle cx="139.0" cy="55.5" r="0.6"/><circle cx="139.1" cy="56.2" r="0.6"/><circle cx="124.8" cy="27.3" r="0.6"/><circle cx="126.3" cy="27.3" r="0.6"/><circle cx="99.3" cy="53.0" r="0.6"/><circle cx="99.5" cy="53.9" r="0.6"/><circle cx="109.6" cy="65.6" r="0.6"/><circle cx="84.8" cy="48.5" r="0.6"/><circle cx="84.6" cy="49.1" r="0.6"/><circle cx="102.4" cy="46.4" r="0.6"/><circle cx="78.0" cy="21.4" r="0.6"/><circle cx="81.5" cy="30.4" r="0.6"/><circle cx="147.6" cy="67.6" r="0.6"/><circle cx="147.8" cy="68.9" r="0.6"/><circle cx="132.1" cy="61.4" r="0.6"/><circle cx="133.6" cy="61.8" r="0.6"/><circle cx="110.7" cy="41.1" r="0.6"/><circle cx="144.1" cy="52.6" r="0.6"/><circle cx="113.3" cy="82.5" r="0.6"/><circle cx="112.8" cy="83.2" r="0.6"/><circle cx="146.5" cy="44.4" r="0.6"/><circle cx="145.8" cy="45.7" r="0.6"/><circle cx="117.5" cy="51.3" r="0.6"/><circle cx="79.7" cy="48.9" r="0.6"/><circle cx="86.9" cy="18.9" r="0.6"/><circle cx="98.3" cy="78.0" r="0.6"/><circle cx="139.2" cy="49.4" r="0.6"/><circle cx="139.5" cy="49.8" r="0.6"/><circle cx="122.9" cy="42.5" r="0.6"/><circle cx="123.3" cy="43.1" r="0.6"/><circle cx="108.6" cy="39.4" r="0.6"/><circle cx="108.4" cy="40.0" r="0.6"/><circle cx="74.1" cy="23.0" r="0.6"/><circle cx="88.7" cy="53.3" r="0.6"/><circle cx="99.0" cy="28.8" r="0.6"/><circle cx="95.6" cy="35.8" r="0.6"/><circle cx="101.6" cy="48.5" r="0.6"/><circle cx="98.8" cy="34.0" r="0.6"/><circle cx="99.1" cy="34.9" r="0.6"/><circle cx="123.4" cy="43.0" r="0.6"/><circle cx="126.6" cy="66.1" r="0.6"/><circle cx="107.7" cy="66.7" r="0.6"/><circle cx="99.5" cy="60.2" r="0.6"/><circle cx="119.4" cy="18.2" r="0.6"/><circle cx="120.4" cy="19.2" r="0.6"/><circle cx="120.8" cy="27.4" r="0.6"/><circle cx="121.0" cy="28.3" r="0.6"/><circle cx="78.4" cy="30.7" r="0.6"/><circle cx="111.4" cy="44.2" r="0.6"/><circle cx="123.2" cy="53.9" r="0.6"/><circle cx="132.4" cy="29.0" r="0.6"/><circle cx="122.6" cy="38.3" r="0.6"/><circle cx="123.6" cy="38.8" r="0.6"/><circle cx="99.6" cy="28.9" r="0.6"/><circle cx="80.6" cy="22.9" r="0.6"/><circle cx="81.7" cy="22.6" r="0.6"/><circle cx="111.1" cy="79.8" r="0.6"/><circle cx="110.4" cy="80.2" r="0.6"/><circle cx="106.9" cy="47.0" r="0.6"/><circle cx="108.1" cy="47.1" r="0.6"/><circle cx="119.8" cy="20.8" r="0.6"/><circle cx="108.7" cy="31.5" r="0.6"/><circle cx="108.5" cy="31.9" r="0.6"/><circle cx="95.2" cy="32.7" r="0.6"/><circle cx="94.2" cy="33.3" r="0.6"/><circle cx="126.1" cy="74.5" r="0.6"/><circle cx="125.9" cy="75.0" r="0.6"/><circle cx="148.6" cy="42.7" r="0.6"/><circle cx="148.5" cy="43.7" r="0.6"/><circle cx="108.3" cy="60.7" r="0.6"/><circle cx="107.9" cy="61.2" r="0.6"/><circle cx="126.4" cy="47.1" r="0.6"/><circle cx="127.2" cy="47.7" r="0.6"/><circle cx="98.4" cy="82.0" r="0.6"/><circle cx="98.8" cy="82.4" r="0.6"/><circle cx="136.8" cy="35.9" r="0.6"/><circle cx="129.9" cy="39.3" r="0.6"/><circle cx="126.3" cy="19.3" r="0.6"/><circle cx="126.8" cy="20.3" r="0.6"/><circle cx="120.7" cy="55.9" r="0.6"/><circle cx="121.6" cy="56.8" r="0.6"/><circle cx="129.7" cy="76.6" r="0.6"/><circle cx="114.2" cy="49.2" r="0.6"/><circle cx="81.5" cy="35.5" r="0.6"/><circle cx="81.8" cy="36.1" r="0.6"/><circle cx="133.5" cy="30.9" r="0.6"/><circle cx="133.0" cy="31.8" r="0.6"/><circle cx="76.8" cy="55.4" r="0.6"/><circle cx="77.1" cy="56.1" r="0.6"/><circle cx="128.3" cy="43.6" r="0.6"/><circle cx="98.0" cy="44.5" r="0.6"/><circle cx="97.6" cy="45.4" r="0.6"/><circle cx="94.1" cy="75.0" r="0.6"/><circle cx="114.9" cy="52.5" r="0.6"/><circle cx="115.0" cy="53.0" r="0.6"/><circle cx="119.2" cy="50.3" r="0.6"/><circle cx="120.0" cy="50.8" r="0.6"/><circle cx="140.8" cy="27.6" r="0.6"/><circle cx="101.0" cy="41.2" r="0.6"/><circle cx="142.7" cy="71.9" r="0.6"/><circle cx="122.0" cy="60.5" r="0.6"/><circle cx="121.9" cy="61.6" r="0.6"/><circle cx="106.0" cy="63.0" r="0.6"/><circle cx="108.7" cy="64.4" r="0.6"/><circle cx="109.8" cy="56.7" r="0.6"/><circle cx="105.1" cy="51.8" r="0.6"/><circle cx="126.1" cy="31.0" r="0.6"/><circle cx="100.6" cy="72.0" r="0.6"/><circle cx="100.5" cy="72.8" r="0.6"/><circle cx="116.7" cy="20.2" r="0.6"/><circle cx="66.5" cy="32.3" r="0.6"/><circle cx="66.8" cy="32.4" r="0.6"/><circle cx="103.1" cy="69.0" r="0.6"/><circle cx="102.1" cy="70.0" r="0.6"/><circle cx="106.6" cy="21.0" r="0.6"/><circle cx="107.0" cy="21.6" r="0.6"/><circle cx="106.7" cy="48.0" r="0.6"/><circle cx="124.1" cy="40.7" r="0.6"/><circle cx="97.6" cy="50.5" r="0.6"/><circle cx="119.3" cy="29.9" r="0.6"/><circle cx="86.6" cy="54.7" r="0.6"/><circle cx="88.1" cy="69.6" r="0.6"/><circle cx="87.4" cy="74.8" r="0.6"/><circle cx="87.1" cy="75.1" r="0.6"/><circle cx="106.4" cy="22.5" r="0.6"/><circle cx="114.2" cy="25.5" r="0.6"/><circle cx="113.0" cy="26.0" r="0.6"/><circle cx="129.1" cy="53.0" r="0.6"/><circle cx="129.7" cy="53.5" r="0.6"/><circle cx="112.0" cy="58.5" r="0.6"/><circle cx="112.7" cy="59.4" r="0.6"/><circle cx="112.3" cy="77.6" r="0.6"/><circle cx="83.4" cy="33.7" r="0.6"/><circle cx="83.7" cy="34.0" r="0.6"/><circle cx="128.3" cy="44.5" r="0.6"/><circle cx="127.8" cy="45.1" r="0.6"/><circle cx="97.4" cy="79.8" r="0.6"/><circle cx="98.4" cy="79.9" r="0.6"/><circle cx="121.3" cy="53.8" r="0.6"/><circle cx="121.7" cy="54.7" r="0.6"/><circle cx="65.7" cy="27.3" r="0.6"/><circle cx="122.8" cy="77.6" r="0.6"/><circle cx="121.4" cy="77.3" r="0.6"/><circle cx="102.7" cy="20.4" r="0.6"/><circle cx="103.3" cy="21.7" r="0.6"/><circle cx="95.5" cy="64.6" r="0.6"/><circle cx="87.2" cy="69.2" r="0.6"/><circle cx="86.8" cy="70.0" r="0.6"/><circle cx="130.2" cy="78.6" r="0.6"/><circle cx="102.3" cy="47.0" r="0.6"/><circle cx="102.9" cy="47.7" r="0.6"/><circle cx="118.4" cy="72.1" r="0.6"/><circle cx="118.4" cy="73.0" r="0.6"/><circle cx="74.8" cy="39.7" r="0.6"/><circle cx="75.4" cy="40.7" r="0.6"/><circle cx="115.9" cy="60.3" r="0.6"/><circle cx="115.7" cy="60.6" r="0.6"/><circle cx="97.1" cy="49.0" r="0.6"/><circle cx="106.0" cy="58.4" r="0.6"/><circle cx="101.2" cy="54.5" r="0.6"/><circle cx="100.6" cy="55.1" r="0.6"/><circle cx="97.9" cy="55.5" r="0.6"/><circle cx="113.7" cy="64.4" r="0.6"/><circle cx="113.5" cy="64.9" r="0.6"/><circle cx="90.1" cy="51.9" r="0.6"/><circle cx="94.3" cy="34.6" r="0.6"/><circle cx="94.0" cy="35.0" r="0.6"/><circle cx="115.6" cy="26.5" r="0.6"/><circle cx="84.6" cy="57.0" r="0.6"/><circle cx="87.9" cy="70.1" r="0.6"/><circle cx="65.0" cy="25.2" r="0.6"/><circle cx="65.4" cy="25.6" r="0.6"/><circle cx="119.3" cy="41.1" r="0.6"/><circle cx="119.4" cy="41.4" r="0.6"/><circle cx="149.3" cy="45.4" r="0.6"/><circle cx="144.8" cy="72.7" r="0.6"/><circle cx="143.7" cy="72.6" r="0.6"/><circle cx="109.7" cy="24.4" r="0.6"/><circle cx="90.8" cy="18.9" r="0.6"/><circle cx="87.3" cy="17.6" r="0.6"/><circle cx="95.9" cy="12.4" r="0.6"/><circle cx="94.7" cy="12.8" r="0.6"/><circle cx="114.0" cy="45.0" r="0.6"/><circle cx="113.8" cy="46.4" r="0.6"/><circle cx="124.5" cy="70.5" r="0.6"/><circle cx="124.2" cy="71.4" r="0.6"/><circle cx="97.3" cy="25.0" r="0.6"/><circle cx="96.5" cy="25.9" r="0.6"/><circle cx="143.6" cy="39.1" r="0.6"/><circle cx="85.4" cy="42.7" r="0.6"/><circle cx="86.1" cy="43.4" r="0.6"/><circle cx="127.3" cy="61.6" r="0.6"/><circle cx="78.5" cy="35.7" r="0.6"/><circle cx="78.2" cy="36.4" r="0.6"/><circle cx="100.8" cy="16.5" r="0.6"/><circle cx="145.8" cy="41.8" r="0.6"/><circle cx="88.1" cy="47.5" r="0.6"/><circle cx="89.2" cy="47.8" r="0.6"/><circle cx="99.9" cy="27.5" r="0.6"/><circle cx="138.1" cy="47.2" r="0.6"/><circle cx="137.0" cy="47.5" r="0.6"/><circle cx="95.3" cy="30.7" r="0.6"/><circle cx="105.2" cy="43.0" r="0.6"/><circle cx="148.6" cy="67.4" r="0.6"/><circle cx="103.5" cy="77.2" r="0.6"/><circle cx="103.4" cy="77.6" r="0.6"/><circle cx="90.7" cy="51.0" r="0.6"/><circle cx="90.7" cy="51.6" r="0.6"/><circle cx="110.1" cy="65.0" r="0.6"/><circle cx="108.6" cy="63.0" r="0.6"/><circle cx="129.2" cy="29.7" r="0.6"/><circle cx="108.7" cy="55.9" r="0.6"/><circle cx="108.2" cy="56.3" r="0.6"/><circle cx="99.6" cy="76.6" r="0.6"/><circle cx="100.9" cy="76.8" r="0.6"/><circle cx="94.2" cy="50.5" r="0.6"/><circle cx="95.1" cy="50.4" r="0.6"/><circle cx="121.7" cy="66.1" r="0.6"/><circle cx="121.9" cy="67.1" r="0.6"/><circle cx="113.1" cy="20.3" r="0.6"/><circle cx="112.9" cy="20.8" r="0.6"/><circle cx="145.1" cy="71.2" r="0.6"/><circle cx="78.1" cy="43.8" r="0.6"/><circle cx="77.1" cy="43.5" r="0.6"/><circle cx="101.4" cy="70.4" r="0.6"/><circle cx="82.9" cy="62.8" r="0.6"/><circle cx="90.2" cy="65.6" r="0.6"/><circle cx="89.9" cy="66.3" r="0.6"/><circle cx="77.4" cy="26.7" r="0.6"/><circle cx="83.7" cy="60.0" r="0.6"/><circle cx="83.3" cy="60.9" r="0.6"/><circle cx="100.1" cy="36.5" r="0.6"/><circle cx="99.9" cy="37.5" r="0.6"/><circle cx="86.4" cy="65.9" r="0.6"/><circle cx="139.2" cy="69.3" r="0.6"/><circle cx="138.9" cy="70.4" r="0.6"/><circle cx="137.7" cy="30.3" r="0.6"/><circle cx="137.8" cy="30.6" r="0.6"/><circle cx="139.4" cy="72.7" r="0.6"/><circle cx="139.5" cy="72.9" r="0.6"/><circle cx="119.7" cy="34.2" r="0.6"/><circle cx="142.3" cy="77.6" r="0.6"/><circle cx="142.1" cy="78.7" r="0.6"/><circle cx="132.0" cy="31.2" r="0.6"/><circle cx="132.3" cy="31.9" r="0.6"/><circle cx="98.0" cy="25.9" r="0.6"/><circle cx="94.8" cy="41.7" r="0.6"/><circle cx="94.8" cy="42.5" r="0.6"/><circle cx="113.1" cy="43.9" r="0.6"/><circle cx="112.9" cy="45.0" r="0.6"/><circle cx="91.2" cy="39.6" r="0.6"/><circle cx="90.1" cy="40.1" r="0.6"/><circle cx="87.9" cy="17.1" r="0.6"/><circle cx="109.1" cy="50.8" r="0.6"/><circle cx="107.5" cy="66.2" r="0.6"/><circle cx="108.6" cy="66.6" r="0.6"/><circle cx="126.7" cy="57.1" r="0.6"/><circle cx="126.8" cy="57.9" r="0.6"/><circle cx="129.5" cy="81.0" r="0.6"/><circle cx="128.8" cy="81.0" r="0.6"/><circle cx="93.7" cy="31.7" r="0.6"/><circle cx="138.2" cy="69.0" r="0.6"/><circle cx="138.5" cy="69.7" r="0.6"/><circle cx="93.0" cy="67.2" r="0.6"/><circle cx="92.1" cy="67.6" r="0.6"/><circle cx="109.5" cy="39.7" r="0.6"/><circle cx="109.6" cy="40.4" r="0.6"/><circle cx="148.5" cy="45.7" r="0.6"/><circle cx="87.0" cy="62.2" r="0.6"/><circle cx="120.8" cy="26.1" r="0.6"/><circle cx="120.5" cy="27.2" r="0.6"/><circle cx="126.0" cy="54.1" r="0.6"/><circle cx="113.2" cy="82.0" r="0.6"/><circle cx="114.3" cy="82.3" r="0.6"/><circle cx="86.8" cy="66.2" r="0.6"/><circle cx="87.1" cy="66.9" r="0.6"/><circle cx="89.4" cy="26.0" r="0.6"/><circle cx="90.1" cy="26.3" r="0.6"/><circle cx="107.0" cy="81.7" r="0.6"/><circle cx="71.9" cy="24.5" r="0.6"/><circle cx="72.3" cy="25.0" r="0.6"/><circle cx="98.6" cy="56.9" r="0.6"/><circle cx="98.9" cy="58.0" r="0.6"/><circle cx="115.6" cy="18.8" r="0.6"/><circle cx="82.1" cy="50.5" r="0.6"/><circle cx="82.9" cy="51.5" r="0.6"/><circle cx="99.1" cy="83.8" r="0.6"/><circle cx="92.2" cy="47.0" r="0.6"/><circle cx="74.3" cy="38.6" r="0.6"/><circle cx="75.1" cy="39.3" r="0.6"/><circle cx="96.1" cy="81.9" r="0.6"/><circle cx="97.2" cy="82.1" r="0.6"/><circle cx="147.8" cy="61.6" r="0.6"/><circle cx="147.5" cy="62.7" r="0.6"/><circle cx="125.5" cy="34.8" r="0.6"/><circle cx="144.1" cy="39.2" r="0.6"/><circle cx="144.1" cy="40.2" r="0.6"/><circle cx="137.2" cy="61.0" r="0.6"/><circle cx="137.8" cy="61.3" r="0.6"/><circle cx="104.9" cy="80.4" r="0.6"/><circle cx="105.0" cy="81.1" r="0.6"/><circle cx="126.8" cy="26.7" r="0.6"/><circle cx="86.0" cy="47.2" r="0.6"/><circle cx="85.6" cy="47.6" r="0.6"/><circle cx="136.2" cy="65.5" r="0.6"/><circle cx="97.1" cy="75.6" r="0.6"/><circle cx="97.7" cy="76.1" r="0.6"/><circle cx="109.0" cy="25.0" r="0.6"/><circle cx="103.7" cy="75.7" r="0.6"/><circle cx="80.2" cy="52.2" r="0.6"/><circle cx="79.6" cy="52.2" r="0.6"/><circle cx="80.3" cy="18.7" r="0.6"/><circle cx="79.5" cy="19.5" r="0.6"/><circle cx="118.9" cy="59.5" r="0.6"/><circle cx="98.9" cy="43.0" r="0.6"/><circle cx="98.7" cy="44.0" r="0.6"/><circle cx="100.2" cy="35.4" r="0.6"/><circle cx="94.3" cy="29.2" r="0.6"/><circle cx="138.5" cy="61.3" r="0.6"/><circle cx="101.2" cy="71.8" r="0.6"/><circle cx="101.4" cy="72.3" r="0.6"/><circle cx="94.5" cy="37.0" r="0.6"/><circle cx="93.5" cy="37.6" r="0.6"/><circle cx="100.7" cy="54.0" r="0.6"/><circle cx="126.2" cy="20.9" r="0.6"/><circle cx="136.7" cy="64.9" r="0.6"/><circle cx="135.9" cy="65.0" r="0.6"/><circle cx="76.9" cy="48.4" r="0.6"/><circle cx="137.8" cy="50.9" r="0.6"/><circle cx="113.3" cy="31.6" r="0.6"/><circle cx="115.0" cy="54.7" r="0.6"/><circle cx="115.4" cy="55.1" r="0.6"/><circle cx="96.8" cy="46.3" r="0.6"/><circle cx="97.7" cy="46.4" r="0.6"/><circle cx="91.7" cy="26.8" r="0.6"/><circle cx="91.0" cy="26.9" r="0.6"/><circle cx="106.7" cy="55.7" r="0.6"/><circle cx="124.5" cy="43.4" r="0.6"/><circle cx="87.9" cy="47.9" r="0.6"/><circle cx="121.6" cy="62.5" r="0.6"/><circle cx="75.9" cy="30.4" r="0.6"/><circle cx="128.0" cy="37.2" r="0.6"/><circle cx="129.4" cy="40.4" r="0.6"/><circle cx="129.0" cy="40.5" r="0.6"/><circle cx="136.6" cy="55.7" r="0.6"/><circle cx="137.2" cy="56.3" r="0.6"/><circle cx="115.6" cy="37.4" r="0.6"/><circle cx="116.6" cy="74.8" r="0.6"/><circle cx="117.3" cy="75.5" r="0.6"/><circle cx="107.3" cy="46.4" r="0.6"/><circle cx="106.6" cy="46.6" r="0.6"/><circle cx="89.8" cy="22.1" r="0.6"/><circle cx="137.1" cy="62.5" r="0.6"/><circle cx="118.8" cy="51.1" r="0.6"/><circle cx="119.1" cy="51.8" r="0.6"/><circle cx="95.6" cy="51.9" r="0.6"/><circle cx="137.9" cy="79.1" r="0.6"/><circle cx="90.8" cy="75.2" r="0.6"/><circle cx="131.9" cy="69.9" r="0.6"/><circle cx="132.1" cy="70.2" r="0.6"/><circle cx="91.9" cy="22.2" r="0.6"/><circle cx="91.8" cy="23.4" r="0.6"/><circle cx="127.4" cy="76.0" r="0.6"/><circle cx="127.1" cy="76.9" r="0.6"/><circle cx="113.8" cy="44.4" r="0.6"/><circle cx="68.7" cy="25.6" r="0.6"/><circle cx="69.2" cy="25.8" r="0.6"/><circle cx="97.8" cy="52.8" r="0.6"/><circle cx="145.9" cy="44.0" r="0.6"/><circle cx="74.6" cy="50.5" r="0.6"/><circle cx="128.4" cy="40.5" r="0.6"/><circle cx="127.3" cy="41.2" r="0.6"/><circle cx="111.2" cy="68.9" r="0.6"/><circle cx="102.2" cy="52.8" r="0.6"/><circle cx="100.9" cy="52.7" r="0.6"/><circle cx="91.5" cy="63.6" r="0.6"/><circle cx="91.6" cy="64.4" r="0.6"/><circle cx="89.9" cy="30.4" r="0.6"/><circle cx="90.1" cy="30.7" r="0.6"/><circle cx="113.2" cy="49.6" r="0.6"/><circle cx="112.9" cy="51.1" r="0.6"/><circle cx="98.3" cy="48.8" r="0.6"/><circle cx="80.1" cy="29.1" r="0.6"/><circle cx="88.1" cy="60.9" r="0.6"/><circle cx="87.9" cy="61.1" r="0.6"/><circle cx="103.5" cy="45.5" r="0.6"/><circle cx="103.2" cy="46.3" r="0.6"/><circle cx="125.2" cy="80.3" r="0.6"/><circle cx="115.0" cy="35.8" r="0.6"/><circle cx="114.8" cy="35.6" r="0.6"/><circle cx="90.4" cy="64.0" r="0.6"/><circle cx="91.3" cy="64.1" r="0.6"/><circle cx="102.9" cy="83.7" r="0.6"/><circle cx="101.4" cy="84.3" r="0.6"/><circle cx="109.1" cy="81.5" r="0.6"/><circle cx="108.7" cy="82.0" r="0.6"/><circle cx="124.7" cy="39.3" r="0.6"/><circle cx="124.1" cy="39.8" r="0.6"/><circle cx="107.9" cy="44.9" r="0.6"/><circle cx="108.8" cy="45.4" r="0.6"/><circle cx="101.9" cy="69.9" r="0.6"/><circle cx="125.6" cy="60.2" r="0.6"/><circle cx="126.4" cy="61.5" r="0.6"/><circle cx="111.9" cy="22.1" r="0.6"/><circle cx="112.5" cy="22.8" r="0.6"/><circle cx="121.6" cy="72.2" r="0.6"/><circle cx="122.0" cy="64.2" r="0.6"/><circle cx="89.0" cy="15.3" r="0.6"/><circle cx="90.2" cy="16.3" r="0.6"/><circle cx="122.9" cy="19.4" r="0.6"/><circle cx="99.9" cy="84.6" r="0.6"/><circle cx="95.4" cy="44.6" r="0.6"/><circle cx="121.4" cy="41.7" r="0.6"/><circle cx="121.0" cy="42.2" r="0.6"/><circle cx="87.0" cy="18.8" r="0.6"/><circle cx="126.6" cy="29.3" r="0.6"/><circle cx="126.9" cy="30.0" r="0.6"/><circle cx="90.8" cy="16.4" r="0.6"/><circle cx="143.6" cy="60.6" r="0.6"/><circle cx="128.6" cy="37.0" r="0.6"/><circle cx="127.8" cy="36.8" r="0.6"/><circle cx="83.5" cy="35.3" r="0.6"/><circle cx="130.5" cy="40.2" r="0.6"/><circle cx="130.5" cy="40.5" r="0.6"/><circle cx="116.8" cy="44.4" r="0.6"/><circle cx="102.1" cy="53.6" r="0.6"/><circle cx="103.5" cy="53.7" r="0.6"/><circle cx="141.6" cy="71.1" r="0.6"/><circle cx="104.0" cy="73.1" r="0.6"/><circle cx="134.9" cy="49.7" r="0.6"/><circle cx="115.8" cy="61.7" r="0.6"/><circle cx="115.2" cy="62.7" r="0.6"/><circle cx="117.6" cy="58.0" r="0.6"/><circle cx="90.1" cy="36.4" r="0.6"/><circle cx="134.6" cy="25.5" r="0.6"/><circle cx="134.2" cy="26.7" r="0.6"/><circle cx="123.2" cy="76.9" r="0.6"/><circle cx="124.2" cy="77.3" r="0.6"/><circle cx="95.6" cy="18.3" r="0.6"/>
</g>
<g fill="#b0a53c" opacity="0.9">
<circle cx="90.7" cy="109.6" r="0.6"/><circle cx="87.4" cy="94.1" r="0.6"/><circle cx="87.9" cy="94.6" r="0.6"/><circle cx="75.8" cy="103.2" r="0.6"/><circle cx="89.2" cy="104.6" r="0.6"/><circle cx="88.9" cy="105.6" r="0.6"/><circle cx="88.4" cy="113.4" r="0.6"/><circle cx="79.5" cy="93.4" r="0.6"/><circle cx="71.6" cy="95.2" r="0.6"/><circle cx="71.7" cy="95.6" r="0.6"/><circle cx="96.8" cy="101.5" r="0.6"/><circle cx="98.4" cy="101.6" r="0.6"/><circle cx="73.3" cy="105.4" r="0.6"/><circle cx="72.9" cy="106.2" r="0.6"/><circle cx="71.1" cy="100.8" r="0.6"/><circle cx="94.4" cy="99.0" r="0.6"/><circle cx="74.6" cy="99.1" r="0.6"/><circle cx="93.0" cy="108.8" r="0.6"/><circle cx="73.2" cy="98.9" r="0.6"/><circle cx="73.4" cy="99.9" r="0.6"/><circle cx="86.2" cy="103.5" r="0.6"/><circle cx="79.8" cy="109.5" r="0.6"/><circle cx="79.5" cy="110.6" r="0.6"/><circle cx="76.8" cy="93.8" r="0.6"/><circle cx="90.4" cy="102.2" r="0.6"/><circle cx="90.9" cy="102.8" r="0.6"/><circle cx="92.0" cy="109.0" r="0.6"/><circle cx="91.0" cy="109.6" r="0.6"/><circle cx="77.0" cy="102.7" r="0.6"/><circle cx="78.4" cy="102.4" r="0.6"/><circle cx="78.2" cy="103.0" r="0.6"/><circle cx="75.9" cy="98.0" r="0.6"/><circle cx="76.6" cy="98.5" r="0.6"/><circle cx="74.2" cy="97.7" r="0.6"/><circle cx="87.0" cy="112.4" r="0.6"/><circle cx="86.8" cy="113.3" r="0.6"/><circle cx="97.0" cy="97.0" r="0.6"/><circle cx="96.6" cy="97.4" r="0.6"/><circle cx="75.6" cy="102.5" r="0.6"/><circle cx="90.1" cy="95.2" r="0.6"/><circle cx="94.1" cy="101.2" r="0.6"/><circle cx="94.5" cy="102.6" r="0.6"/><circle cx="90.7" cy="93.6" r="0.6"/><circle cx="89.7" cy="93.8" r="0.6"/><circle cx="91.7" cy="102.8" r="0.6"/><circle cx="91.0" cy="103.4" r="0.6"/><circle cx="72.9" cy="94.5" r="0.6"/><circle cx="78.5" cy="96.2" r="0.6"/><circle cx="80.3" cy="100.9" r="0.6"/><circle cx="79.6" cy="102.1" r="0.6"/><circle cx="72.6" cy="96.5" r="0.6"/><circle cx="72.4" cy="98.1" r="0.6"/><circle cx="74.6" cy="88.4" r="0.6"/><circle cx="90.4" cy="112.8" r="0.6"/><circle cx="82.1" cy="97.2" r="0.6"/><circle cx="81.7" cy="97.9" r="0.6"/><circle cx="92.4" cy="102.1" r="0.6"/><circle cx="87.8" cy="113.9" r="0.6"/><circle cx="86.0" cy="94.0" r="0.6"/><circle cx="73.2" cy="93.1" r="0.6"/><circle cx="72.8" cy="94.0" r="0.6"/><circle cx="69.8" cy="90.5" r="0.6"/><circle cx="69.3" cy="91.0" r="0.6"/><circle cx="81.7" cy="88.9" r="0.6"/><circle cx="82.0" cy="89.6" r="0.6"/><circle cx="95.1" cy="105.4" r="0.6"/><circle cx="77.9" cy="105.8" r="0.6"/><circle cx="77.1" cy="106.0" r="0.6"/><circle cx="95.4" cy="99.1" r="0.6"/><circle cx="96.0" cy="99.8" r="0.6"/><circle cx="79.5" cy="96.8" r="0.6"/><circle cx="86.9" cy="95.6" r="0.6"/><circle cx="87.7" cy="95.5" r="0.6"/><circle cx="70.7" cy="94.2" r="0.6"/><circle cx="69.8" cy="94.3" r="0.6"/><circle cx="90.2" cy="100.6" r="0.6"/><circle cx="98.2" cy="102.4" r="0.6"/><circle cx="79.2" cy="95.2" r="0.6"/><circle cx="86.5" cy="107.6" r="0.6"/><circle cx="85.3" cy="92.4" r="0.6"/><circle cx="85.8" cy="98.3" r="0.6"/><circle cx="87.4" cy="114.7" r="0.6"/><circle cx="72.1" cy="90.6" r="0.6"/><circle cx="71.3" cy="90.6" r="0.6"/><circle cx="99.5" cy="104.3" r="0.6"/><circle cx="90.9" cy="101.7" r="0.6"/><circle cx="90.2" cy="101.8" r="0.6"/><circle cx="79.4" cy="98.8" r="0.6"/><circle cx="79.0" cy="99.4" r="0.6"/><circle cx="69.7" cy="91.7" r="0.6"/><circle cx="70.3" cy="92.1" r="0.6"/><circle cx="83.8" cy="93.2" r="0.6"/><circle cx="84.5" cy="93.1" r="0.6"/><circle cx="90.8" cy="102.2" r="0.6"/><circle cx="90.0" cy="102.7" r="0.6"/><circle cx="79.4" cy="102.2" r="0.6"/><circle cx="87.0" cy="109.5" r="0.6"/><circle cx="87.4" cy="110.5" r="0.6"/><circle cx="85.0" cy="110.4" r="0.6"/><circle cx="85.6" cy="111.4" r="0.6"/><circle cx="90.2" cy="103.2" r="0.6"/><circle cx="89.6" cy="104.2" r="0.6"/><circle cx="87.4" cy="108.6" r="0.6"/><circle cx="88.0" cy="109.3" r="0.6"/><circle cx="92.9" cy="98.2" r="0.6"/><circle cx="91.8" cy="98.7" r="0.6"/><circle cx="89.4" cy="108.9" r="0.6"/><circle cx="84.2" cy="113.6" r="0.6"/><circle cx="84.8" cy="114.1" r="0.6"/><circle cx="83.4" cy="92.8" r="0.6"/><circle cx="83.2" cy="93.6" r="0.6"/><circle cx="77.7" cy="103.1" r="0.6"/><circle cx="79.2" cy="92.7" r="0.6"/><circle cx="78.3" cy="93.3" r="0.6"/><circle cx="78.3" cy="97.4" r="0.6"/><circle cx="69.3" cy="98.1" r="0.6"/><circle cx="78.9" cy="89.6" r="0.6"/><circle cx="84.4" cy="102.1" r="0.6"/><circle cx="81.2" cy="89.0" r="0.6"/><circle cx="80.3" cy="88.9" r="0.6"/><circle cx="71.1" cy="95.3" r="0.6"/><circle cx="72.1" cy="95.9" r="0.6"/><circle cx="83.6" cy="109.0" r="0.6"/><circle cx="84.5" cy="109.2" r="0.6"/><circle cx="74.0" cy="103.7" r="0.6"/><circle cx="90.5" cy="96.2" r="0.6"/><circle cx="90.6" cy="96.8" r="0.6"/><circle cx="76.6" cy="102.3" r="0.6"/><circle cx="76.9" cy="102.8" r="0.6"/><circle cx="74.7" cy="94.7" r="0.6"/><circle cx="69.9" cy="102.1" r="0.6"/><circle cx="69.2" cy="102.9" r="0.6"/><circle cx="69.3" cy="99.8" r="0.6"/><circle cx="84.4" cy="95.3" r="0.6"/><circle cx="75.3" cy="98.8" r="0.6"/><circle cx="74.9" cy="99.4" r="0.6"/><circle cx="95.8" cy="106.0" r="0.6"/><circle cx="95.9" cy="106.7" r="0.6"/><circle cx="86.4" cy="114.1" r="0.6"/><circle cx="86.1" cy="114.8" r="0.6"/><circle cx="68.8" cy="92.2" r="0.6"/><circle cx="68.9" cy="94.2" r="0.6"/><circle cx="83.6" cy="90.5" r="0.6"/><circle cx="84.0" cy="91.3" r="0.6"/><circle cx="85.2" cy="99.1" r="0.6"/><circle cx="85.5" cy="99.1" r="0.6"/><circle cx="89.3" cy="104.3" r="0.6"/><circle cx="89.0" cy="103.1" r="0.6"/><circle cx="86.6" cy="102.0" r="0.6"/><circle cx="87.6" cy="109.0" r="0.6"/><circle cx="87.3" cy="109.7" r="0.6"/><circle cx="86.3" cy="94.5" r="0.6"/><circle cx="84.8" cy="95.2" r="0.6"/><circle cx="89.9" cy="113.4" r="0.6"/><circle cx="89.3" cy="113.1" r="0.6"/><circle cx="75.1" cy="105.9" r="0.6"/><circle cx="89.7" cy="100.0" r="0.6"/><circle cx="84.5" cy="101.1" r="0.6"/><circle cx="85.0" cy="102.0" r="0.6"/><circle cx="69.9" cy="102.3" r="0.6"/><circle cx="70.8" cy="102.2" r="0.6"/><circle cx="93.3" cy="102.2" r="0.6"/><circle cx="94.1" cy="102.2" r="0.6"/><circle cx="79.8" cy="100.4" r="0.6"/><circle cx="76.3" cy="92.9" r="0.6"/><circle cx="70.3" cy="92.0" r="0.6"/><circle cx="69.9" cy="92.6" r="0.6"/><circle cx="85.3" cy="113.1" r="0.6"/><circle cx="87.7" cy="115.6" r="0.6"/><circle cx="71.6" cy="103.8" r="0.6"/><circle cx="85.2" cy="110.1" r="0.6"/><circle cx="86.3" cy="110.6" r="0.6"/><circle cx="72.0" cy="101.8" r="0.6"/><circle cx="85.9" cy="112.3" r="0.6"/><circle cx="78.4" cy="89.9" r="0.6"/><circle cx="79.3" cy="89.9" r="0.6"/><circle cx="69.2" cy="102.5" r="0.6"/><circle cx="72.6" cy="97.3" r="0.6"/><circle cx="69.0" cy="98.5" r="0.6"/><circle cx="69.6" cy="98.8" r="0.6"/><circle cx="89.6" cy="100.0" r="0.6"/><circle cx="90.8" cy="100.1" r="0.6"/><circle cx="84.4" cy="109.4" r="0.6"/><circle cx="85.6" cy="108.8" r="0.6"/><circle cx="90.4" cy="102.3" r="0.6"/><circle cx="75.9" cy="104.1" r="0.6"/><circle cx="82.4" cy="110.4" r="0.6"/><circle cx="82.9" cy="111.2" r="0.6"/><circle cx="89.9" cy="101.0" r="0.6"/><circle cx="89.5" cy="102.3" r="0.6"/><circle cx="84.0" cy="93.8" r="0.6"/><circle cx="83.9" cy="94.5" r="0.6"/><circle cx="88.1" cy="93.2" r="0.6"/><circle cx="78.3" cy="88.9" r="0.6"/><circle cx="79.0" cy="89.2" r="0.6"/><circle cx="98.3" cy="98.5" r="0.6"/><circle cx="97.8" cy="99.2" r="0.6"/><circle cx="91.1" cy="100.6" r="0.6"/><circle cx="90.7" cy="97.2" r="0.6"/><circle cx="93.7" cy="101.1" r="0.6"/><circle cx="81.9" cy="91.1" r="0.6"/><circle cx="91.6" cy="105.5" r="0.6"/><circle cx="78.0" cy="100.1" r="0.6"/><circle cx="77.1" cy="100.6" r="0.6"/><circle cx="97.5" cy="105.8" r="0.6"/><circle cx="85.7" cy="116.4" r="0.6"/><circle cx="86.2" cy="117.2" r="0.6"/><circle cx="76.3" cy="93.1" r="0.6"/><circle cx="95.6" cy="104.0" r="0.6"/><circle cx="94.8" cy="104.1" r="0.6"/><circle cx="67.6" cy="94.4" r="0.6"/><circle cx="67.0" cy="95.6" r="0.6"/><circle cx="87.0" cy="105.5" r="0.6"/><circle cx="86.4" cy="105.9" r="0.6"/><circle cx="89.3" cy="94.9" r="0.6"/><circle cx="88.7" cy="94.3" r="0.6"/><circle cx="72.4" cy="97.8" r="0.6"/><circle cx="84.5" cy="96.1" r="0.6"/><circle cx="84.2" cy="109.1" r="0.6"/><circle cx="96.4" cy="103.4" r="0.6"/>
</g>
<g fill="#13946a" opacity="0.9">
<circle cx="44.3" cy="51.9" r="0.6"/><circle cx="43.4" cy="52.2" r="0.6"/><circle cx="45.9" cy="51.7" r="0.6"/><circle cx="45.4" cy="51.4" r="0.6"/><circle cx="45.1" cy="51.6" r="0.6"/><circle cx="44.4" cy="52.2" r="0.6"/><circle cx="41.2" cy="51.5" r="0.6"/><circle cx="47.5" cy="50.1" r="0.6"/><circle cx="47.2" cy="50.6" r="0.6"/><circle cx="43.5" cy="55.6" r="0.6"/><circle cx="43.3" cy="48.2" r="0.6"/><circle cx="42.8" cy="49.0" r="0.6"/><circle cx="43.4" cy="48.8" r="0.6"/><circle cx="47.0" cy="51.1" r="0.6"/><circle cx="47.7" cy="53.2" r="0.6"/><circle cx="46.6" cy="55.7" r="0.6"/><circle cx="47.2" cy="55.4" r="0.6"/><circle cx="48.6" cy="53.2" r="0.6"/><circle cx="47.7" cy="53.4" r="0.6"/><circle cx="47.5" cy="50.6" r="0.6"/><circle cx="45.9" cy="49.4" r="0.6"/><circle cx="44.0" cy="49.8" r="0.6"/><circle cx="44.1" cy="56.5" r="0.6"/><circle cx="42.7" cy="56.9" r="0.6"/><circle cx="44.1" cy="48.3" r="0.6"/><circle cx="43.6" cy="48.7" r="0.6"/><circle cx="41.7" cy="53.4" r="0.6"/><circle cx="45.7" cy="57.0" r="0.6"/><circle cx="42.2" cy="50.9" r="0.6"/><circle cx="42.0" cy="51.6" r="0.6"/><circle cx="42.3" cy="52.7" r="0.6"/><circle cx="41.7" cy="53.7" r="0.6"/><circle cx="45.2" cy="50.6" r="0.6"/><circle cx="44.0" cy="50.8" r="0.6"/><circle cx="44.0" cy="54.2" r="0.6"/><circle cx="45.9" cy="56.2" r="0.6"/><circle cx="45.6" cy="56.9" r="0.6"/><circle cx="41.2" cy="50.1" r="0.6"/><circle cx="49.6" cy="58.6" r="0.6"/><circle cx="49.5" cy="58.2" r="0.6"/><circle cx="48.5" cy="58.4" r="0.6"/>
</g>
<g fill="#1a9ad8" opacity="0.9">
<circle cx="59.5" cy="70.2" r="0.6"/><circle cx="58.9" cy="69.8" r="0.6"/><circle cx="58.3" cy="69.7" r="0.6"/><circle cx="58.0" cy="69.8" r="0.6"/><circle cx="58.9" cy="70.2" r="0.6"/><circle cx="58.4" cy="71.1" r="0.6"/><circle cx="55.6" cy="70.6" r="0.6"/><circle cx="56.3" cy="71.2" r="0.6"/><circle cx="61.2" cy="67.2" r="0.6"/><circle cx="61.7" cy="68.0" r="0.6"/><circle cx="56.9" cy="71.9" r="0.6"/><circle cx="56.8" cy="73.1" r="0.6"/><circle cx="54.5" cy="70.2" r="0.6"/><circle cx="55.7" cy="69.0" r="0.6"/><circle cx="61.5" cy="68.7" r="0.6"/><circle cx="62.1" cy="69.4" r="0.6"/><circle cx="56.8" cy="69.1" r="0.6"/><circle cx="54.7" cy="71.3" r="0.6"/><circle cx="54.1" cy="72.2" r="0.6"/><circle cx="58.6" cy="68.8" r="0.6"/><circle cx="57.6" cy="68.5" r="0.6"/><circle cx="55.1" cy="68.5" r="0.6"/><circle cx="56.5" cy="69.1" r="0.6"/><circle cx="56.0" cy="72.6" r="0.6"/><circle cx="57.7" cy="72.2" r="0.6"/><circle cx="62.5" cy="67.7" r="0.6"/><circle cx="54.3" cy="72.5" r="0.6"/><circle cx="55.2" cy="73.0" r="0.6"/><circle cx="64.5" cy="69.3" r="0.6"/><circle cx="63.4" cy="69.3" r="0.6"/><circle cx="61.4" cy="71.2" r="0.6"/><circle cx="54.5" cy="69.7" r="0.6"/><circle cx="54.0" cy="70.1" r="0.6"/><circle cx="58.2" cy="69.6" r="0.6"/><circle cx="58.4" cy="70.1" r="0.6"/><circle cx="61.5" cy="72.1" r="0.6"/><circle cx="60.5" cy="71.8" r="0.6"/><circle cx="60.3" cy="72.2" r="0.6"/><circle cx="59.1" cy="70.7" r="0.6"/><circle cx="58.4" cy="71.3" r="0.6"/><circle cx="55.7" cy="72.8" r="0.6"/><circle cx="63.1" cy="68.7" r="0.6"/><circle cx="61.9" cy="69.5" r="0.6"/>
</g>
<g fill="#b066aa" opacity="0.85">
<circle cx="122.7" cy="97.4" r="0.6"/><circle cx="122.5" cy="98.7" r="0.6"/><circle cx="123.8" cy="96.2" r="0.6"/><circle cx="123.2" cy="96.7" r="0.6"/><circle cx="119.6" cy="93.9" r="0.6"/><circle cx="123.0" cy="93.8" r="0.6"/><circle cx="119.4" cy="96.0" r="0.6"/><circle cx="122.9" cy="99.0" r="0.6"/><circle cx="124.1" cy="97.5" r="0.6"/><circle cx="123.5" cy="97.6" r="0.6"/><circle cx="122.3" cy="97.1" r="0.6"/><circle cx="121.3" cy="97.2" r="0.6"/><circle cx="120.1" cy="96.0" r="0.6"/><circle cx="120.0" cy="96.8" r="0.6"/><circle cx="120.6" cy="96.0" r="0.6"/><circle cx="121.3" cy="96.1" r="0.6"/><circle cx="118.2" cy="95.9" r="0.6"/><circle cx="124.4" cy="98.9" r="0.6"/><circle cx="123.2" cy="101.0" r="0.6"/><circle cx="123.7" cy="100.6" r="0.6"/><circle cx="125.6" cy="96.0" r="0.6"/><circle cx="120.3" cy="98.1" r="0.6"/><circle cx="122.1" cy="96.9" r="0.6"/><circle cx="121.1" cy="97.2" r="0.6"/><circle cx="120.0" cy="98.7" r="0.6"/><circle cx="119.9" cy="99.4" r="0.6"/><circle cx="122.5" cy="96.7" r="0.6"/><circle cx="122.5" cy="95.3" r="0.6"/><circle cx="121.3" cy="96.1" r="0.6"/><circle cx="119.1" cy="97.9" r="0.6"/><circle cx="118.2" cy="98.5" r="0.6"/><circle cx="123.9" cy="100.3" r="0.6"/><circle cx="124.3" cy="101.1" r="0.6"/><circle cx="125.8" cy="96.0" r="0.6"/><circle cx="124.8" cy="96.4" r="0.6"/>
</g>
<circle cx="166.5" cy="53.40" r="1.65" fill="#dc766c"/>
<text x="171.00" y="55.30" font-size="5.4">0</text>
<circle cx="166.5" cy="59.65" r="1.65" fill="#b5aa2e"/>
<text x="171.00" y="61.55" font-size="5.4">1</text>
<circle cx="166.5" cy="65.90" r="1.65" fill="#0c9a6c"/>
<text x="171.00" y="67.80" font-size="5.4">2</text>
<circle cx="166.5" cy="72.15" r="1.65" fill="#1aa1e0"/>
<text x="171.00" y="74.05" font-size="5.4">3</text>
<circle cx="166.5" cy="78.40" r="1.65" fill="#c07ac0"/>
<text x="171.00" y="80.30" font-size="5.4">4</text>
<text x="189.40" y="16.70" font-size="11.2" textLength="6.00" lengthAdjust="spacingAndGlyphs">B</text>
<rect x="229.80" y="20.40" width="3.90" height="3.90" fill="#cfc443"/>
<text x="236.10" y="24.00" font-size="5.0" textLength="17.30" lengthAdjust="spacingAndGlyphs">Clone 1</text>
<rect x="259.60" y="20.40" width="3.90" height="3.90" fill="#5a6aa8"/>
<text x="265.90" y="24.00" font-size="5.0" textLength="17.30" lengthAdjust="spacingAndGlyphs">Clone 3</text>
<rect x="229.80" y="26.90" width="3.90" height="3.90" fill="#c65d36"/>
<text x="236.10" y="30.50" font-size="5.0" textLength="17.30" lengthAdjust="spacingAndGlyphs">Clone 0</text>
<rect x="259.60" y="26.90" width="3.90" height="3.90" fill="#4d9d55"/>
<text x="265.90" y="30.50" font-size="5.0" textLength="17.30" lengthAdjust="spacingAndGlyphs">Clone 2</text>
<rect x="288.60" y="26.90" width="3.90" height="3.90" fill="#9b5aa0"/>
<text x="294.90" y="30.50" font-size="5.0" textLength="17.30" lengthAdjust="spacingAndGlyphs">Clone 4</text>
<rect x="229.60" y="52.38" width="12.20" height="63.02" fill="#c65d36"/>
<rect x="229.60" y="45.98" width="12.20" height="6.40" fill="#cfc443"/>
<rect x="229.60" y="41.79" width="12.20" height="4.19" fill="#4d9d55"/>
<rect x="229.60" y="39.20" width="12.20" height="2.59" fill="#5a6aa8"/>
<rect x="244.00" y="76.08" width="12.20" height="39.32" fill="#c65d36"/>
<rect x="244.00" y="60.99" width="12.20" height="15.09" fill="#cfc443"/>
<rect x="244.00" y="48.19" width="12.20" height="12.80" fill="#4d9d55"/>
<rect x="244.00" y="39.20" width="12.20" height="8.99" fill="#5a6aa8"/>
<rect x="258.50" y="56.88" width="12.20" height="58.52" fill="#c65d36"/>
<rect x="258.50" y="44.92" width="12.20" height="11.96" fill="#cfc443"/>
<rect x="258.50" y="42.78" width="12.20" height="2.13" fill="#4d9d55"/>
<rect x="258.50" y="40.88" width="12.20" height="1.91" fill="#5a6aa8"/>
<rect x="258.50" y="39.20" width="12.20" height="1.68" fill="#9b5aa0"/>
<rect x="272.90" y="47.20" width="12.20" height="68.20" fill="#c65d36"/>
<rect x="272.90" y="42.32" width="12.20" height="4.88" fill="#cfc443"/>
<rect x="272.90" y="40.88" width="12.20" height="1.45" fill="#4d9d55"/>
<rect x="272.90" y="39.20" width="12.20" height="1.68" fill="#5a6aa8"/>
<rect x="287.30" y="66.40" width="12.20" height="49.00" fill="#c65d36"/>
<rect x="287.30" y="55.74" width="12.20" height="10.67" fill="#cfc443"/>
<rect x="287.30" y="46.29" width="12.20" height="9.45" fill="#4d9d55"/>
<rect x="287.30" y="39.20" width="12.20" height="7.09" fill="#5a6aa8"/>
<rect x="302.10" y="60.23" width="12.20" height="55.17" fill="#c65d36"/>
<rect x="302.10" y="50.93" width="12.20" height="9.30" fill="#cfc443"/>
<rect x="302.10" y="44.53" width="12.20" height="6.40" fill="#4d9d55"/>
<rect x="302.10" y="39.20" width="12.20" height="5.33" fill="#5a6aa8"/>
<line x1="226.20" y1="39.20" x2="226.20" y2="115.90" stroke="#231f20" stroke-width="1.1"/>
<line x1="225.60" y1="115.40" x2="317.00" y2="115.40" stroke="#231f20" stroke-width="1.1"/>
<line x1="223.60" y1="115.40" x2="226.20" y2="115.40" stroke="#231f20" stroke-width="0.9"/>
<text x="221.20" y="117.70" font-size="6.4" text-anchor="end" textLength="8.40" lengthAdjust="spacingAndGlyphs">0.0</text>
<line x1="223.60" y1="100.16" x2="226.20" y2="100.16" stroke="#231f20" stroke-width="0.9"/>
<text x="221.20" y="102.46" font-size="6.4" text-anchor="end" textLength="8.40" lengthAdjust="spacingAndGlyphs">0.2</text>
<line x1="223.60" y1="84.92" x2="226.20" y2="84.92" stroke="#231f20" stroke-width="0.9"/>
<text x="221.20" y="87.22" font-size="6.4" text-anchor="end" textLength="8.40" lengthAdjust="spacingAndGlyphs">0.4</text>
<line x1="223.60" y1="69.68" x2="226.20" y2="69.68" stroke="#231f20" stroke-width="0.9"/>
<text x="221.20" y="71.98" font-size="6.4" text-anchor="end" textLength="8.40" lengthAdjust="spacingAndGlyphs">0.6</text>
<line x1="223.60" y1="54.44" x2="226.20" y2="54.44" stroke="#231f20" stroke-width="0.9"/>
<text x="221.20" y="56.74" font-size="6.4" text-anchor="end" textLength="8.40" lengthAdjust="spacingAndGlyphs">0.8</text>
<line x1="223.60" y1="39.20" x2="226.20" y2="39.20" stroke="#231f20" stroke-width="0.9"/>
<text x="221.20" y="41.50" font-size="6.4" text-anchor="end" textLength="8.40" lengthAdjust="spacingAndGlyphs">1.0</text>
<text x="236.90" y="120.60" font-size="5.9" text-anchor="end" transform="rotate(-45 236.90 120.60)">LPJ119</text>
<text x="251.30" y="120.60" font-size="5.9" text-anchor="end" transform="rotate(-45 251.30 120.60)">LPJ128</text>
<text x="265.80" y="120.60" font-size="5.9" text-anchor="end" transform="rotate(-45 265.80 120.60)">LPM011</text>
<text x="280.20" y="120.60" font-size="5.9" text-anchor="end" transform="rotate(-45 280.20 120.60)">LPM018</text>
<text x="294.60" y="120.60" font-size="5.9" text-anchor="end" transform="rotate(-45 294.60 120.60)">LPM020</text>
<text x="309.40" y="120.60" font-size="5.9" text-anchor="end" transform="rotate(-45 309.40 120.60)">LPM021</text>
<text x="197.30" y="75.80" font-size="9.0" text-anchor="middle" textLength="93.00" lengthAdjust="spacingAndGlyphs" transform="rotate(-90 197.30 75.80)">Malignant B-cell clone size</text>
<text x="206.00" y="74.30" font-size="9.0" text-anchor="middle" textLength="53.50" lengthAdjust="spacingAndGlyphs" transform="rotate(-90 206.00 74.30)">(scRNA-Seq)</text>
<text x="332.70" y="17.20" font-size="11.2" textLength="6.90" lengthAdjust="spacingAndGlyphs">C</text>
<rect x="359.5" y="23.2" width="98.8" height="92.4" fill="none" stroke="#231f20" stroke-width="1"/>
<line x1="356.60" y1="112.40" x2="359.50" y2="112.40" stroke="#231f20" stroke-width="0.8"/>
<text x="354.00" y="114.60" font-size="6.0" text-anchor="end" textLength="8.50" lengthAdjust="spacingAndGlyphs">0.0</text>
<line x1="356.60" y1="88.68" x2="359.50" y2="88.68" stroke="#231f20" stroke-width="0.8"/>
<text x="354.00" y="90.88" font-size="6.0" text-anchor="end" textLength="8.50" lengthAdjust="spacingAndGlyphs">0.2</text>
<line x1="356.60" y1="64.96" x2="359.50" y2="64.96" stroke="#231f20" stroke-width="0.8"/>
<text x="354.00" y="67.16" font-size="6.0" text-anchor="end" textLength="8.50" lengthAdjust="spacingAndGlyphs">0.4</text>
<line x1="356.60" y1="41.24" x2="359.50" y2="41.24" stroke="#231f20" stroke-width="0.8"/>
<text x="354.00" y="43.44" font-size="6.0" text-anchor="end" textLength="8.50" lengthAdjust="spacingAndGlyphs">0.6</text>
<line x1="385.80" y1="115.60" x2="385.80" y2="118.60" stroke="#231f20" stroke-width="0.8"/>
<line x1="431.10" y1="115.60" x2="431.10" y2="118.60" stroke="#231f20" stroke-width="0.8"/>
<text x="385.80" y="19.00" font-size="5.9" text-anchor="middle" textLength="14.50" lengthAdjust="spacingAndGlyphs">N=19</text>
<text x="431.10" y="19.00" font-size="5.9" text-anchor="middle">N=6</text>
<text x="385.80" y="127.60" font-size="6.6" text-anchor="middle" textLength="19.20" lengthAdjust="spacingAndGlyphs">Smaller</text>
<text x="385.80" y="134.90" font-size="6.6" text-anchor="middle" textLength="26.90" lengthAdjust="spacingAndGlyphs">Subclones</text>
<text x="431.10" y="127.60" font-size="6.6" text-anchor="middle" textLength="19.30" lengthAdjust="spacingAndGlyphs">Largest</text>
<text x="431.10" y="134.90" font-size="6.6" text-anchor="middle" textLength="24.60" lengthAdjust="spacingAndGlyphs">Subclone</text>
<text x="408.70" y="146.60" font-size="9.0" text-anchor="middle" textLength="117.50" lengthAdjust="spacingAndGlyphs">Clone-specific genes (scRNA-Seq)</text>
<text x="340.60" y="69.30" font-size="9.0" text-anchor="middle" textLength="96.00" lengthAdjust="spacingAndGlyphs" transform="rotate(-90 340.60 69.30)">Allele frequency (EXM-Seq)</text>
<line x1="385.80" y1="74.60" x2="385.80" y2="89.10" stroke="#444" stroke-width="0.9" stroke-dasharray="2.2 1.6"/>
<line x1="385.80" y1="105.60" x2="385.80" y2="112.20" stroke="#444" stroke-width="0.9" stroke-dasharray="2.2 1.6"/>
<line x1="376.60" y1="74.60" x2="395.10" y2="74.60" stroke="#231f20" stroke-width="0.9"/>
<line x1="376.60" y1="112.20" x2="395.10" y2="112.20" stroke="#231f20" stroke-width="0.9"/>
<rect x="367.30" y="89.10" width="37.10" height="16.50" fill="#62a9b0"/>
<line x1="367.30" y1="95.20" x2="404.40" y2="95.20" stroke="#1a1a1a" stroke-width="1.2"/>
<line x1="431.10" y1="86.50" x2="431.10" y2="93.10" stroke="#444" stroke-width="0.9" stroke-dasharray="2.2 1.6"/>
<line x1="422.00" y1="93.10" x2="440.70" y2="93.10" stroke="#231f20" stroke-width="0.9"/>
<rect x="412.80" y="26.70" width="36.60" height="59.80" fill="#62a9b0"/>
<line x1="422.00" y1="26.90" x2="440.70" y2="26.90" stroke="#555" stroke-width="0.9"/>
<line x1="412.80" y1="74.60" x2="449.40" y2="74.60" stroke="#1a1a1a" stroke-width="1.2"/>
<text x="7.10" y="173.70" font-size="11.2" textLength="7.40" lengthAdjust="spacingAndGlyphs">D</text>
<g shape-rendering="crispEdges">
<rect x="33.00" y="201.80" width="12.05" height="5.51" fill="#f2ddd0"/>
<rect x="45.00" y="201.80" width="12.05" height="5.51" fill="#f2ddd0"/>
<rect x="57.00" y="201.80" width="12.05" height="5.51" fill="#f2ddd0"/>
<rect x="69.00" y="201.80" width="12.05" height="5.51" fill="#f2ddd0"/>
<rect x="33.00" y="207.26" width="12.05" height="5.51" fill="#f2ddd0"/>
<rect x="45.00" y="207.26" width="12.05" height="5.51" fill="#f2ddd0"/>
<rect x="57.00" y="207.26" width="12.05" height="5.51" fill="#f2ddd0"/>
<rect x="69.00" y="207.26" width="12.05" height="5.51" fill="#f2ddd0"/>
<rect x="33.00" y="212.72" width="12.05" height="5.51" fill="#e2e5ec"/>
<rect x="45.00" y="212.72" width="12.05" height="5.51" fill="#e2e5ec"/>
<rect x="57.00" y="212.72" width="12.05" height="5.51" fill="#cdd6e4"/>
<rect x="69.00" y="212.72" width="12.05" height="5.51" fill="#c75b3f"/>
<rect x="33.00" y="218.18" width="12.05" height="5.51" fill="#adc4df"/>
<rect x="45.00" y="218.18" width="12.05" height="5.51" fill="#adc4df"/>
<rect x="57.00" y="218.18" width="12.05" height="5.51" fill="#adc4df"/>
<rect x="69.00" y="218.18" width="12.05" height="5.51" fill="#adc4df"/>
<rect x="33.00" y="223.64" width="12.05" height="5.51" fill="#f8f8f9"/>
<rect x="45.00" y="223.64" width="12.05" height="5.51" fill="#f8f8f9"/>
<rect x="57.00" y="223.64" width="12.05" height="5.51" fill="#f9f5ed"/>
<rect x="69.00" y="223.64" width="12.05" height="5.51" fill="#3d5f9e"/>
<rect x="33.00" y="229.10" width="12.05" height="5.51" fill="#f8f8f9"/>
<rect x="45.00" y="229.10" width="12.05" height="5.51" fill="#f9f5ed"/>
<rect x="57.00" y="229.10" width="12.05" height="5.51" fill="#e2e5ec"/>
<rect x="69.00" y="229.10" width="12.05" height="5.51" fill="#f2ddd0"/>
<rect x="33.00" y="234.56" width="12.05" height="5.51" fill="#adc4df"/>
<rect x="45.00" y="234.56" width="12.05" height="5.51" fill="#e2e5ec"/>
<rect x="57.00" y="234.56" width="12.05" height="5.51" fill="#cdd6e4"/>
<rect x="69.00" y="234.56" width="12.05" height="5.51" fill="#8aaad4"/>
<rect x="33.00" y="240.02" width="12.05" height="5.51" fill="#adc4df"/>
<rect x="45.00" y="240.02" width="12.05" height="5.51" fill="#e2e5ec"/>
<rect x="57.00" y="240.02" width="12.05" height="5.51" fill="#cdd6e4"/>
<rect x="69.00" y="240.02" width="12.05" height="5.51" fill="#adc4df"/>
<rect x="33.00" y="245.48" width="12.05" height="5.51" fill="#adc4df"/>
<rect x="45.00" y="245.48" width="12.05" height="5.51" fill="#e2e5ec"/>
<rect x="57.00" y="245.48" width="12.05" height="5.51" fill="#cdd6e4"/>
<rect x="69.00" y="245.48" width="12.05" height="5.51" fill="#adc4df"/>
<rect x="33.00" y="250.94" width="12.05" height="5.51" fill="#adc4df"/>
<rect x="45.00" y="250.94" width="12.05" height="5.51" fill="#e2e5ec"/>
<rect x="57.00" y="250.94" width="12.05" height="5.51" fill="#cdd6e4"/>
<rect x="69.00" y="250.94" width="12.05" height="5.51" fill="#adc4df"/>
<rect x="33.00" y="256.40" width="12.05" height="5.51" fill="#adc4df"/>
<rect x="45.00" y="256.40" width="12.05" height="5.51" fill="#e2e5ec"/>
<rect x="57.00" y="256.40" width="12.05" height="5.51" fill="#cdd6e4"/>
<rect x="69.00" y="256.40" width="12.05" height="5.51" fill="#adc4df"/>
<rect x="33.00" y="261.86" width="12.05" height="5.51" fill="#adc4df"/>
<rect x="45.00" y="261.86" width="12.05" height="5.51" fill="#e2e5ec"/>
<rect x="57.00" y="261.86" width="12.05" height="5.51" fill="#cdd6e4"/>
<rect x="69.00" y="261.86" width="12.05" height="5.51" fill="#adc4df"/>
<rect x="33.00" y="267.32" width="12.05" height="5.51" fill="#adc4df"/>
<rect x="45.00" y="267.32" width="12.05" height="5.51" fill="#cdd6e4"/>
<rect x="57.00" y="267.32" width="12.05" height="5.51" fill="#adc4df"/>
<rect x="69.00" y="267.32" width="12.05" height="5.51" fill="#cdd6e4"/>
<rect x="33.00" y="272.78" width="12.05" height="5.51" fill="#adc4df"/>
<rect x="45.00" y="272.78" width="12.05" height="5.51" fill="#cdd6e4"/>
<rect x="57.00" y="272.78" width="12.05" height="5.51" fill="#e2e5ec"/>
<rect x="69.00" y="272.78" width="12.05" height="5.51" fill="#8aaad4"/>
<rect x="33.00" y="278.24" width="12.05" height="5.51" fill="#cdd6e4"/>
<rect x="45.00" y="278.24" width="12.05" height="5.51" fill="#cdd6e4"/>
<rect x="57.00" y="278.24" width="12.05" height="5.51" fill="#f8f8f9"/>
<rect x="69.00" y="278.24" width="12.05" height="5.51" fill="#cdd6e4"/>
<rect x="33.00" y="283.70" width="12.05" height="5.51" fill="#adc4df"/>
<rect x="45.00" y="283.70" width="12.05" height="5.51" fill="#cdd6e4"/>
<rect x="57.00" y="283.70" width="12.05" height="5.51" fill="#f8f8f9"/>
<rect x="69.00" y="283.70" width="12.05" height="5.51" fill="#adc4df"/>
<rect x="33.00" y="289.16" width="12.05" height="5.51" fill="#cdd6e4"/>
<rect x="45.00" y="289.16" width="12.05" height="5.51" fill="#e2e5ec"/>
<rect x="57.00" y="289.16" width="12.05" height="5.51" fill="#f8f8f9"/>
<rect x="69.00" y="289.16" width="12.05" height="5.51" fill="#cdd6e4"/>
<rect x="33.00" y="294.62" width="12.05" height="5.51" fill="#cdd6e4"/>
<rect x="45.00" y="294.62" width="12.05" height="5.51" fill="#f8f8f9"/>
<rect x="57.00" y="294.62" width="12.05" height="5.51" fill="#f8f8f9"/>
<rect x="69.00" y="294.62" width="12.05" height="5.51" fill="#cdd6e4"/>
<rect x="33.00" y="300.08" width="12.05" height="5.51" fill="#e2e5ec"/>
<rect x="45.00" y="300.08" width="12.05" height="5.51" fill="#e2e5ec"/>
<rect x="57.00" y="300.08" width="12.05" height="5.51" fill="#f8f8f9"/>
<rect x="69.00" y="300.08" width="12.05" height="5.51" fill="#adc4df"/>
<rect x="33.00" y="305.54" width="12.05" height="5.51" fill="#e2e5ec"/>
<rect x="45.00" y="305.54" width="12.05" height="5.51" fill="#f8f8f9"/>
<rect x="57.00" y="305.54" width="12.05" height="5.51" fill="#f8f8f9"/>
<rect x="69.00" y="305.54" width="12.05" height="5.51" fill="#adc4df"/>
<rect x="33.00" y="311.00" width="12.05" height="5.51" fill="#e2e5ec"/>
<rect x="45.00" y="311.00" width="12.05" height="5.51" fill="#e2e5ec"/>
<rect x="57.00" y="311.00" width="12.05" height="5.51" fill="#f8f8f9"/>
<rect x="69.00" y="311.00" width="12.05" height="5.51" fill="#adc4df"/>
<rect x="84.60" y="201.80" width="12.05" height="5.51" fill="#e2e5ec"/>
<rect x="96.60" y="201.80" width="12.05" height="5.51" fill="#f8f8f9"/>
<rect x="108.60" y="201.80" width="12.05" height="5.51" fill="#f8f8f9"/>
<rect x="120.60" y="201.80" width="12.05" height="5.51" fill="#f8f8f9"/>
<rect x="84.60" y="207.26" width="12.05" height="5.51" fill="#f8f8f9"/>
<rect x="96.60" y="207.26" width="12.05" height="5.51" fill="#e2e5ec"/>
<rect x="108.60" y="207.26" width="12.05" height="5.51" fill="#e2e5ec"/>
<rect x="120.60" y="207.26" width="12.05" height="5.51" fill="#e2e5ec"/>
<rect x="84.60" y="212.72" width="12.05" height="5.51" fill="#f8f8f9"/>
<rect x="96.60" y="212.72" width="12.05" height="5.51" fill="#f8f8f9"/>
<rect x="108.60" y="212.72" width="12.05" height="5.51" fill="#e2e5ec"/>
<rect x="120.60" y="212.72" width="12.05" height="5.51" fill="#e2e5ec"/>
<rect x="84.60" y="218.18" width="12.05" height="5.51" fill="#e2e5ec"/>
<rect x="96.60" y="218.18" width="12.05" height="5.51" fill="#f8f8f9"/>
<rect x="108.60" y="218.18" width="12.05" height="5.51" fill="#f8f8f9"/>
<rect x="120.60" y="218.18" width="12.05" height="5.51" fill="#f9f5ed"/>
<rect x="84.60" y="223.64" width="12.05" height="5.51" fill="#e2e5ec"/>
<rect x="96.60" y="223.64" width="12.05" height="5.51" fill="#f8f8f9"/>
<rect x="108.60" y="223.64" width="12.05" height="5.51" fill="#f8f8f9"/>
<rect x="120.60" y="223.64" width="12.05" height="5.51" fill="#f8f8f9"/>
<rect x="84.60" y="229.10" width="12.05" height="5.51" fill="#e2e5ec"/>
<rect x="96.60" y="229.10" width="12.05" height="5.51" fill="#f9f5ed"/>
<rect x="108.60" y="229.10" width="12.05" height="5.51" fill="#f8f8f9"/>
<rect x="120.60" y="229.10" width="12.05" height="5.51" fill="#f9f5ed"/>
<rect x="84.60" y="234.56" width="12.05" height="5.51" fill="#f8f8f9"/>
<rect x="96.60" y="234.56" width="12.05" height="5.51" fill="#cdd6e4"/>
<rect x="108.60" y="234.56" width="12.05" height="5.51" fill="#e2e5ec"/>
<rect x="120.60" y="234.56" width="12.05" height="5.51" fill="#e2e5ec"/>
<rect x="84.60" y="240.02" width="12.05" height="5.51" fill="#f8f8f9"/>
<rect x="96.60" y="240.02" width="12.05" height="5.51" fill="#cdd6e4"/>
<rect x="108.60" y="240.02" width="12.05" height="5.51" fill="#e2e5ec"/>
<rect x="120.60" y="240.02" width="12.05" height="5.51" fill="#e2e5ec"/>
<rect x="84.60" y="245.48" width="12.05" height="5.51" fill="#f8f8f9"/>
<rect x="96.60" y="245.48" width="12.05" height="5.51" fill="#cdd6e4"/>
<rect x="108.60" y="245.48" width="12.05" height="5.51" fill="#e2e5ec"/>
<rect x="120.60" y="245.48" width="12.05" height="5.51" fill="#e2e5ec"/>
<rect x="84.60" y="250.94" width="12.05" height="5.51" fill="#f8f8f9"/>
<rect x="96.60" y="250.94" width="12.05" height="5.51" fill="#cdd6e4"/>
<rect x="108.60" y="250.94" width="12.05" height="5.51" fill="#e2e5ec"/>
<rect x="120.60" y="250.94" width="12.05" height="5.51" fill="#e2e5ec"/>
<rect x="84.60" y="256.40" width="12.05" height="5.51" fill="#f8f8f9"/>
<rect x="96.60" y="256.40" width="12.05" height="5.51" fill="#cdd6e4"/>
<rect x="108.60" y="256.40" width="12.05" height="5.51" fill="#e2e5ec"/>
<rect x="120.60" y="256.40" width="12.05" height="5.51" fill="#e2e5ec"/>
<rect x="84.60" y="261.86" width="12.05" height="5.51" fill="#f8f8f9"/>
<rect x="96.60" y="261.86" width="12.05" height="5.51" fill="#cdd6e4"/>
<rect x="108.60" y="261.86" width="12.05" height="5.51" fill="#e2e5ec"/>
<rect x="120.60" y="261.86" width="12.05" height="5.51" fill="#e2e5ec"/>
<rect x="84.60" y="267.32" width="12.05" height="5.51" fill="#e2e5ec"/>
<rect x="96.60" y="267.32" width="12.05" height="5.51" fill="#e2e5ec"/>
<rect x="108.60" y="267.32" width="12.05" height="5.51" fill="#e2e5ec"/>
<rect x="120.60" y="267.32" width="12.05" height="5.51" fill="#cdd6e4"/>
<rect x="84.60" y="272.78" width="12.05" height="5.51" fill="#f8f8f9"/>
<rect x="96.60" y="272.78" width="12.05" height="5.51" fill="#cdd6e4"/>
<rect x="108.60" y="272.78" width="12.05" height="5.51" fill="#e2e5ec"/>
<rect x="120.60" y="272.78" width="12.05" height="5.51" fill="#e2e5ec"/>
<rect x="84.60" y="278.24" width="12.05" height="5.51" fill="#cdd6e4"/>
<rect x="96.60" y="278.24" width="12.05" height="5.51" fill="#f8f8f9"/>
<rect x="108.60" y="278.24" width="12.05" height="5.51" fill="#f8f8f9"/>
<rect x="120.60" y="278.24" width="12.05" height="5.51" fill="#f8f8f9"/>
<rect x="84.60" y="283.70" width="12.05" height="5.51" fill="#e2e5ec"/>
<rect x="96.60" y="283.70" width="12.05" height="5.51" fill="#f8f8f9"/>
<rect x="108.60" y="283.70" width="12.05" height="5.51" fill="#f8f8f9"/>
<rect x="120.60" y="283.70" width="12.05" height="5.51" fill="#f9f5ed"/>
<rect x="84.60" y="289.16" width="12.05" height="5.51" fill="#e2e5ec"/>
<rect x="96.60" y="289.16" width="12.05" height="5.51" fill="#f8f8f9"/>
<rect x="108.60" y="289.16" width="12.05" height="5.51" fill="#f8f8f9"/>
<rect x="120.60" y="289.16" width="12.05" height="5.51" fill="#f9f5ed"/>
<rect x="84.60" y="294.62" width="12.05" height="5.51" fill="#e2e5ec"/>
<rect x="96.60" y="294.62" width="12.05" height="5.51" fill="#f8f8f9"/>
<rect x="108.60" y="294.62" width="12.05" height="5.51" fill="#f8f8f9"/>
<rect x="120.60" y="294.62" width="12.05" height="5.51" fill="#f9f5ed"/>
<rect x="84.60" y="300.08" width="12.05" height="5.51" fill="#e2e5ec"/>
<rect x="96.60" y="300.08" width="12.05" height="5.51" fill="#f8f8f9"/>
<rect x="108.60" y="300.08" width="12.05" height="5.51" fill="#f8f8f9"/>
<rect x="120.60" y="300.08" width="12.05" height="5.51" fill="#f9f5ed"/>
<rect x="84.60" y="305.54" width="12.05" height="5.51" fill="#e2e5ec"/>
<rect x="96.60" y="305.54" width="12.05" height="5.51" fill="#f8f8f9"/>
<rect x="108.60" y="305.54" width="12.05" height="5.51" fill="#f8f8f9"/>
<rect x="120.60" y="305.54" width="12.05" height="5.51" fill="#f9f5ed"/>
<rect x="84.60" y="311.00" width="12.05" height="5.51" fill="#e2e5ec"/>
<rect x="96.60" y="311.00" width="12.05" height="5.51" fill="#f8f8f9"/>
<rect x="108.60" y="311.00" width="12.05" height="5.51" fill="#f8f8f9"/>
<rect x="120.60" y="311.00" width="12.05" height="5.51" fill="#f9f5ed"/>
<rect x="137.00" y="201.80" width="9.65" height="5.51" fill="#e2e5ec"/>
<rect x="146.60" y="201.80" width="9.65" height="5.51" fill="#f8f8f9"/>
<rect x="156.20" y="201.80" width="9.65" height="5.51" fill="#cdd6e4"/>
<rect x="165.80" y="201.80" width="9.65" height="5.51" fill="#cdd6e4"/>
<rect x="175.40" y="201.80" width="9.65" height="5.51" fill="#8aaad4"/>
<rect x="137.00" y="207.26" width="9.65" height="5.51" fill="#cdd6e4"/>
<rect x="146.60" y="207.26" width="9.65" height="5.51" fill="#f8f8f9"/>
<rect x="156.20" y="207.26" width="9.65" height="5.51" fill="#e2e5ec"/>
<rect x="165.80" y="207.26" width="9.65" height="5.51" fill="#cdd6e4"/>
<rect x="175.40" y="207.26" width="9.65" height="5.51" fill="#adc4df"/>
<rect x="137.00" y="212.72" width="9.65" height="5.51" fill="#adc4df"/>
<rect x="146.60" y="212.72" width="9.65" height="5.51" fill="#cdd6e4"/>
<rect x="156.20" y="212.72" width="9.65" height="5.51" fill="#e2e5ec"/>
<rect x="165.80" y="212.72" width="9.65" height="5.51" fill="#f8f8f9"/>
<rect x="175.40" y="212.72" width="9.65" height="5.51" fill="#f8f8f9"/>
<rect x="137.00" y="218.18" width="9.65" height="5.51" fill="#f8f8f9"/>
<rect x="146.60" y="218.18" width="9.65" height="5.51" fill="#f8f8f9"/>
<rect x="156.20" y="218.18" width="9.65" height="5.51" fill="#e2e5ec"/>
<rect x="165.80" y="218.18" width="9.65" height="5.51" fill="#e2e5ec"/>
<rect x="175.40" y="218.18" width="9.65" height="5.51" fill="#f8f8f9"/>
<rect x="137.00" y="223.64" width="9.65" height="5.51" fill="#adc4df"/>
<rect x="146.60" y="223.64" width="9.65" height="5.51" fill="#cdd6e4"/>
<rect x="156.20" y="223.64" width="9.65" height="5.51" fill="#cdd6e4"/>
<rect x="165.80" y="223.64" width="9.65" height="5.51" fill="#f8f8f9"/>
<rect x="175.40" y="223.64" width="9.65" height="5.51" fill="#cdd6e4"/>
<rect x="137.00" y="229.10" width="9.65" height="5.51" fill="#f8f8f9"/>
<rect x="146.60" y="229.10" width="9.65" height="5.51" fill="#f8f8f9"/>
<rect x="156.20" y="229.10" width="9.65" height="5.51" fill="#e2e5ec"/>
<rect x="165.80" y="229.10" width="9.65" height="5.51" fill="#e2e5ec"/>
<rect x="175.40" y="229.10" width="9.65" height="5.51" fill="#e2e5ec"/>
<rect x="137.00" y="234.56" width="9.65" height="5.51" fill="#cdd6e4"/>
<rect x="146.60" y="234.56" width="9.65" height="5.51" fill="#adc4df"/>
<rect x="156.20" y="234.56" width="9.65" height="5.51" fill="#adc4df"/>
<rect x="165.80" y="234.56" width="9.65" height="5.51" fill="#e2e5ec"/>
<rect x="175.40" y="234.56" width="9.65" height="5.51" fill="#7297c6"/>
<rect x="137.00" y="240.02" width="9.65" height="5.51" fill="#cdd6e4"/>
<rect x="146.60" y="240.02" width="9.65" height="5.51" fill="#adc4df"/>
<rect x="156.20" y="240.02" width="9.65" height="5.51" fill="#cdd6e4"/>
<rect x="165.80" y="240.02" width="9.65" height="5.51" fill="#e2e5ec"/>
<rect x="175.40" y="240.02" width="9.65" height="5.51" fill="#7297c6"/>
<rect x="137.00" y="245.48" width="9.65" height="5.51" fill="#cdd6e4"/>
<rect x="146.60" y="245.48" width="9.65" height="5.51" fill="#adc4df"/>
<rect x="156.20" y="245.48" width="9.65" height="5.51" fill="#adc4df"/>
<rect x="165.80" y="245.48" width="9.65" height="5.51" fill="#e2e5ec"/>
<rect x="175.40" y="245.48" width="9.65" height="5.51" fill="#7297c6"/>
<rect x="137.00" y="250.94" width="9.65" height="5.51" fill="#cdd6e4"/>
<rect x="146.60" y="250.94" width="9.65" height="5.51" fill="#adc4df"/>
<rect x="156.20" y="250.94" width="9.65" height="5.51" fill="#adc4df"/>
<rect x="165.80" y="250.94" width="9.65" height="5.51" fill="#e2e5ec"/>
<rect x="175.40" y="250.94" width="9.65" height="5.51" fill="#7297c6"/>
<rect x="137.00" y="256.40" width="9.65" height="5.51" fill="#cdd6e4"/>
<rect x="146.60" y="256.40" width="9.65" height="5.51" fill="#adc4df"/>
<rect x="156.20" y="256.40" width="9.65" height="5.51" fill="#adc4df"/>
<rect x="165.80" y="256.40" width="9.65" height="5.51" fill="#e2e5ec"/>
<rect x="175.40" y="256.40" width="9.65" height="5.51" fill="#7297c6"/>
<rect x="137.00" y="261.86" width="9.65" height="5.51" fill="#cdd6e4"/>
<rect x="146.60" y="261.86" width="9.65" height="5.51" fill="#adc4df"/>
<rect x="156.20" y="261.86" width="9.65" height="5.51" fill="#adc4df"/>
<rect x="165.80" y="261.86" width="9.65" height="5.51" fill="#e2e5ec"/>
<rect x="175.40" y="261.86" width="9.65" height="5.51" fill="#7297c6"/>
<rect x="137.00" y="267.32" width="9.65" height="5.51" fill="#e2e5ec"/>
<rect x="146.60" y="267.32" width="9.65" height="5.51" fill="#f2ddd0"/>
<rect x="156.20" y="267.32" width="9.65" height="5.51" fill="#e2e5ec"/>
<rect x="165.80" y="267.32" width="9.65" height="5.51" fill="#e2e5ec"/>
<rect x="175.40" y="267.32" width="9.65" height="5.51" fill="#cdd6e4"/>
<rect x="137.00" y="272.78" width="9.65" height="5.51" fill="#f2ddd0"/>
<rect x="146.60" y="272.78" width="9.65" height="5.51" fill="#f9f5ed"/>
<rect x="156.20" y="272.78" width="9.65" height="5.51" fill="#f9f5ed"/>
<rect x="165.80" y="272.78" width="9.65" height="5.51" fill="#f8f8f9"/>
<rect x="175.40" y="272.78" width="9.65" height="5.51" fill="#d47b5c"/>
<rect x="137.00" y="278.24" width="9.65" height="5.51" fill="#cdd6e4"/>
<rect x="146.60" y="278.24" width="9.65" height="5.51" fill="#cdd6e4"/>
<rect x="156.20" y="278.24" width="9.65" height="5.51" fill="#f8f8f9"/>
<rect x="165.80" y="278.24" width="9.65" height="5.51" fill="#f8f8f9"/>
<rect x="175.40" y="278.24" width="9.65" height="5.51" fill="#f8f8f9"/>
<rect x="137.00" y="283.70" width="9.65" height="5.51" fill="#cdd6e4"/>
<rect x="146.60" y="283.70" width="9.65" height="5.51" fill="#8aaad4"/>
<rect x="156.20" y="283.70" width="9.65" height="5.51" fill="#f8f8f9"/>
<rect x="165.80" y="283.70" width="9.65" height="5.51" fill="#f8f8f9"/>
<rect x="175.40" y="283.70" width="9.65" height="5.51" fill="#e2e5ec"/>
<rect x="137.00" y="289.16" width="9.65" height="5.51" fill="#e2e5ec"/>
<rect x="146.60" y="289.16" width="9.65" height="5.51" fill="#e2e5ec"/>
<rect x="156.20" y="289.16" width="9.65" height="5.51" fill="#f8f8f9"/>
<rect x="165.80" y="289.16" width="9.65" height="5.51" fill="#f8f8f9"/>
<rect x="175.40" y="289.16" width="9.65" height="5.51" fill="#f9f5ed"/>
<rect x="137.00" y="294.62" width="9.65" height="5.51" fill="#e2e5ec"/>
<rect x="146.60" y="294.62" width="9.65" height="5.51" fill="#cdd6e4"/>
<rect x="156.20" y="294.62" width="9.65" height="5.51" fill="#e2e5ec"/>
<rect x="165.80" y="294.62" width="9.65" height="5.51" fill="#f8f8f9"/>
<rect x="175.40" y="294.62" width="9.65" height="5.51" fill="#e9b29a"/>
<rect x="137.00" y="300.08" width="9.65" height="5.51" fill="#adc4df"/>
<rect x="146.60" y="300.08" width="9.65" height="5.51" fill="#cdd6e4"/>
<rect x="156.20" y="300.08" width="9.65" height="5.51" fill="#e2e5ec"/>
<rect x="165.80" y="300.08" width="9.65" height="5.51" fill="#f8f8f9"/>
<rect x="175.40" y="300.08" width="9.65" height="5.51" fill="#f9f5ed"/>
<rect x="137.00" y="305.54" width="9.65" height="5.51" fill="#adc4df"/>
<rect x="146.60" y="305.54" width="9.65" height="5.51" fill="#adc4df"/>
<rect x="156.20" y="305.54" width="9.65" height="5.51" fill="#e2e5ec"/>
<rect x="165.80" y="305.54" width="9.65" height="5.51" fill="#f8f8f9"/>
<rect x="175.40" y="305.54" width="9.65" height="5.51" fill="#f9f5ed"/>
<rect x="137.00" y="311.00" width="9.65" height="5.51" fill="#8aaad4"/>
<rect x="146.60" y="311.00" width="9.65" height="5.51" fill="#adc4df"/>
<rect x="156.20" y="311.00" width="9.65" height="5.51" fill="#e2e5ec"/>
<rect x="165.80" y="311.00" width="9.65" height="5.51" fill="#f8f8f9"/>
<rect x="175.40" y="311.00" width="9.65" height="5.51" fill="#f8f8f9"/>
<rect x="187.90" y="201.80" width="12.05" height="5.51" fill="#adc4df"/>
<rect x="199.90" y="201.80" width="12.05" height="5.51" fill="#cdd6e4"/>
<rect x="211.90" y="201.80" width="12.05" height="5.51" fill="#943030"/>
<rect x="223.90" y="201.80" width="12.05" height="5.51" fill="#cdd6e4"/>
<rect x="187.90" y="207.26" width="12.05" height="5.51" fill="#cdd6e4"/>
<rect x="199.90" y="207.26" width="12.05" height="5.51" fill="#e2e5ec"/>
<rect x="211.90" y="207.26" width="12.05" height="5.51" fill="#943030"/>
<rect x="223.90" y="207.26" width="12.05" height="5.51" fill="#cdd6e4"/>
<rect x="187.90" y="212.72" width="12.05" height="5.51" fill="#f9f5ed"/>
<rect x="199.90" y="212.72" width="12.05" height="5.51" fill="#f9f5ed"/>
<rect x="211.90" y="212.72" width="12.05" height="5.51" fill="#f9f5ed"/>
<rect x="223.90" y="212.72" width="12.05" height="5.51" fill="#f2ddd0"/>
<rect x="187.90" y="218.18" width="12.05" height="5.51" fill="#f8f8f9"/>
<rect x="199.90" y="218.18" width="12.05" height="5.51" fill="#e2e5ec"/>
<rect x="211.90" y="218.18" width="12.05" height="5.51" fill="#e2e5ec"/>
<rect x="223.90" y="218.18" width="12.05" height="5.51" fill="#cdd6e4"/>
<rect x="187.90" y="223.64" width="12.05" height="5.51" fill="#f9f5ed"/>
<rect x="199.90" y="223.64" width="12.05" height="5.51" fill="#e2e5ec"/>
<rect x="211.90" y="223.64" width="12.05" height="5.51" fill="#cdd6e4"/>
<rect x="223.90" y="223.64" width="12.05" height="5.51" fill="#cdd6e4"/>
<rect x="187.90" y="229.10" width="12.05" height="5.51" fill="#c75b3f"/>
<rect x="199.90" y="229.10" width="12.05" height="5.51" fill="#e2e5ec"/>
<rect x="211.90" y="229.10" width="12.05" height="5.51" fill="#f9f5ed"/>
<rect x="223.90" y="229.10" width="12.05" height="5.51" fill="#8aaad4"/>
<rect x="187.90" y="234.56" width="12.05" height="5.51" fill="#f2ddd0"/>
<rect x="199.90" y="234.56" width="12.05" height="5.51" fill="#f9f5ed"/>
<rect x="211.90" y="234.56" width="12.05" height="5.51" fill="#f2ddd0"/>
<rect x="223.90" y="234.56" width="12.05" height="5.51" fill="#8aaad4"/>
<rect x="187.90" y="240.02" width="12.05" height="5.51" fill="#f2ddd0"/>
<rect x="199.90" y="240.02" width="12.05" height="5.51" fill="#f9f5ed"/>
<rect x="211.90" y="240.02" width="12.05" height="5.51" fill="#f2ddd0"/>
<rect x="223.90" y="240.02" width="12.05" height="5.51" fill="#8aaad4"/>
<rect x="187.90" y="245.48" width="12.05" height="5.51" fill="#f2ddd0"/>
<rect x="199.90" y="245.48" width="12.05" height="5.51" fill="#f9f5ed"/>
<rect x="211.90" y="245.48" width="12.05" height="5.51" fill="#f2ddd0"/>
<rect x="223.90" y="245.48" width="12.05" height="5.51" fill="#8aaad4"/>
<rect x="187.90" y="250.94" width="12.05" height="5.51" fill="#f2ddd0"/>
<rect x="199.90" y="250.94" width="12.05" height="5.51" fill="#f9f5ed"/>
<rect x="211.90" y="250.94" width="12.05" height="5.51" fill="#f2ddd0"/>
<rect x="223.90" y="250.94" width="12.05" height="5.51" fill="#8aaad4"/>
<rect x="187.90" y="256.40" width="12.05" height="5.51" fill="#f2ddd0"/>
<rect x="199.90" y="256.40" width="12.05" height="5.51" fill="#f9f5ed"/>
<rect x="211.90" y="256.40" width="12.05" height="5.51" fill="#f2ddd0"/>
<rect x="223.90" y="256.40" width="12.05" height="5.51" fill="#8aaad4"/>
<rect x="187.90" y="261.86" width="12.05" height="5.51" fill="#f2ddd0"/>
<rect x="199.90" y="261.86" width="12.05" height="5.51" fill="#f9f5ed"/>
<rect x="211.90" y="261.86" width="12.05" height="5.51" fill="#f2ddd0"/>
<rect x="223.90" y="261.86" width="12.05" height="5.51" fill="#8aaad4"/>
<rect x="187.90" y="267.32" width="12.05" height="5.51" fill="#e2e5ec"/>
<rect x="199.90" y="267.32" width="12.05" height="5.51" fill="#f8f8f9"/>
<rect x="211.90" y="267.32" width="12.05" height="5.51" fill="#e2e5ec"/>
<rect x="223.90" y="267.32" width="12.05" height="5.51" fill="#f9f5ed"/>
<rect x="187.90" y="272.78" width="12.05" height="5.51" fill="#7297c6"/>
<rect x="199.90" y="272.78" width="12.05" height="5.51" fill="#e2e5ec"/>
<rect x="211.90" y="272.78" width="12.05" height="5.51" fill="#cdd6e4"/>
<rect x="223.90" y="272.78" width="12.05" height="5.51" fill="#c75b3f"/>
<rect x="187.90" y="278.24" width="12.05" height="5.51" fill="#5276b6"/>
<rect x="199.90" y="278.24" width="12.05" height="5.51" fill="#f9f5ed"/>
<rect x="211.90" y="278.24" width="12.05" height="5.51" fill="#e2e5ec"/>
<rect x="223.90" y="278.24" width="12.05" height="5.51" fill="#dc9276"/>
<rect x="187.90" y="283.70" width="12.05" height="5.51" fill="#7297c6"/>
<rect x="199.90" y="283.70" width="12.05" height="5.51" fill="#f8f8f9"/>
<rect x="211.90" y="283.70" width="12.05" height="5.51" fill="#cdd6e4"/>
<rect x="223.90" y="283.70" width="12.05" height="5.51" fill="#e9b29a"/>
<rect x="187.90" y="289.16" width="12.05" height="5.51" fill="#7297c6"/>
<rect x="199.90" y="289.16" width="12.05" height="5.51" fill="#f8f8f9"/>
<rect x="211.90" y="289.16" width="12.05" height="5.51" fill="#e2e5ec"/>
<rect x="223.90" y="289.16" width="12.05" height="5.51" fill="#dc9276"/>
<rect x="187.90" y="294.62" width="12.05" height="5.51" fill="#7297c6"/>
<rect x="199.90" y="294.62" width="12.05" height="5.51" fill="#f8f8f9"/>
<rect x="211.90" y="294.62" width="12.05" height="5.51" fill="#f8f8f9"/>
<rect x="223.90" y="294.62" width="12.05" height="5.51" fill="#dc9276"/>
<rect x="187.90" y="300.08" width="12.05" height="5.51" fill="#7297c6"/>
<rect x="199.90" y="300.08" width="12.05" height="5.51" fill="#f9f5ed"/>
<rect x="211.90" y="300.08" width="12.05" height="5.51" fill="#f8f8f9"/>
<rect x="223.90" y="300.08" width="12.05" height="5.51" fill="#d47b5c"/>
<rect x="187.90" y="305.54" width="12.05" height="5.51" fill="#5276b6"/>
<rect x="199.90" y="305.54" width="12.05" height="5.51" fill="#f9f5ed"/>
<rect x="211.90" y="305.54" width="12.05" height="5.51" fill="#f8f8f9"/>
<rect x="223.90" y="305.54" width="12.05" height="5.51" fill="#d47b5c"/>
<rect x="187.90" y="311.00" width="12.05" height="5.51" fill="#5276b6"/>
<rect x="199.90" y="311.00" width="12.05" height="5.51" fill="#f9f5ed"/>
<rect x="211.90" y="311.00" width="12.05" height="5.51" fill="#f8f8f9"/>
<rect x="223.90" y="311.00" width="12.05" height="5.51" fill="#d47b5c"/>
<rect x="239.20" y="201.80" width="12.05" height="5.51" fill="#e2e5ec"/>
<rect x="251.20" y="201.80" width="12.05" height="5.51" fill="#e2e5ec"/>
<rect x="263.20" y="201.80" width="12.05" height="5.51" fill="#e2e5ec"/>
<rect x="275.20" y="201.80" width="12.05" height="5.51" fill="#e2e5ec"/>
<rect x="239.20" y="207.26" width="12.05" height="5.51" fill="#f8f8f9"/>
<rect x="251.20" y="207.26" width="12.05" height="5.51" fill="#e2e5ec"/>
<rect x="263.20" y="207.26" width="12.05" height="5.51" fill="#e2e5ec"/>
<rect x="275.20" y="207.26" width="12.05" height="5.51" fill="#e2e5ec"/>
<rect x="239.20" y="212.72" width="12.05" height="5.51" fill="#f8f8f9"/>
<rect x="251.20" y="212.72" width="12.05" height="5.51" fill="#f8f8f9"/>
<rect x="263.20" y="212.72" width="12.05" height="5.51" fill="#cdd6e4"/>
<rect x="275.20" y="212.72" width="12.05" height="5.51" fill="#f9f5ed"/>
<rect x="239.20" y="218.18" width="12.05" height="5.51" fill="#f9f5ed"/>
<rect x="251.20" y="218.18" width="12.05" height="5.51" fill="#f9f5ed"/>
<rect x="263.20" y="218.18" width="12.05" height="5.51" fill="#f9f5ed"/>
<rect x="275.20" y="218.18" width="12.05" height="5.51" fill="#f9f5ed"/>
<rect x="239.20" y="223.64" width="12.05" height="5.51" fill="#d47b5c"/>
<rect x="251.20" y="223.64" width="12.05" height="5.51" fill="#e2e5ec"/>
<rect x="263.20" y="223.64" width="12.05" height="5.51" fill="#f8f8f9"/>
<rect x="275.20" y="223.64" width="12.05" height="5.51" fill="#adc4df"/>
<rect x="239.20" y="229.10" width="12.05" height="5.51" fill="#adc4df"/>
<rect x="251.20" y="229.10" width="12.05" height="5.51" fill="#f9f5ed"/>
<rect x="263.20" y="229.10" width="12.05" height="5.51" fill="#e2e5ec"/>
<rect x="275.20" y="229.10" width="12.05" height="5.51" fill="#d47b5c"/>
<rect x="239.20" y="234.56" width="12.05" height="5.51" fill="#adc4df"/>
<rect x="251.20" y="234.56" width="12.05" height="5.51" fill="#f2ddd0"/>
<rect x="263.20" y="234.56" width="12.05" height="5.51" fill="#f9f5ed"/>
<rect x="275.20" y="234.56" width="12.05" height="5.51" fill="#f2ddd0"/>
<rect x="239.20" y="240.02" width="12.05" height="5.51" fill="#adc4df"/>
<rect x="251.20" y="240.02" width="12.05" height="5.51" fill="#f9f5ed"/>
<rect x="263.20" y="240.02" width="12.05" height="5.51" fill="#f9f5ed"/>
<rect x="275.20" y="240.02" width="12.05" height="5.51" fill="#f2ddd0"/>
<rect x="239.20" y="245.48" width="12.05" height="5.51" fill="#adc4df"/>
<rect x="251.20" y="245.48" width="12.05" height="5.51" fill="#f9f5ed"/>
<rect x="263.20" y="245.48" width="12.05" height="5.51" fill="#f9f5ed"/>
<rect x="275.20" y="245.48" width="12.05" height="5.51" fill="#f2ddd0"/>
<rect x="239.20" y="250.94" width="12.05" height="5.51" fill="#adc4df"/>
<rect x="251.20" y="250.94" width="12.05" height="5.51" fill="#f9f5ed"/>
<rect x="263.20" y="250.94" width="12.05" height="5.51" fill="#f9f5ed"/>
<rect x="275.20" y="250.94" width="12.05" height="5.51" fill="#f2ddd0"/>
<rect x="239.20" y="256.40" width="12.05" height="5.51" fill="#adc4df"/>
<rect x="251.20" y="256.40" width="12.05" height="5.51" fill="#f9f5ed"/>
<rect x="263.20" y="256.40" width="12.05" height="5.51" fill="#f9f5ed"/>
<rect x="275.20" y="256.40" width="12.05" height="5.51" fill="#f2ddd0"/>
<rect x="239.20" y="261.86" width="12.05" height="5.51" fill="#adc4df"/>
<rect x="251.20" y="261.86" width="12.05" height="5.51" fill="#f9f5ed"/>
<rect x="263.20" y="261.86" width="12.05" height="5.51" fill="#f9f5ed"/>
<rect x="275.20" y="261.86" width="12.05" height="5.51" fill="#f2ddd0"/>
<rect x="239.20" y="267.32" width="12.05" height="5.51" fill="#8aaad4"/>
<rect x="251.20" y="267.32" width="12.05" height="5.51" fill="#f9f5ed"/>
<rect x="263.20" y="267.32" width="12.05" height="5.51" fill="#e2e5ec"/>
<rect x="275.20" y="267.32" width="12.05" height="5.51" fill="#c75b3f"/>
<rect x="239.20" y="272.78" width="12.05" height="5.51" fill="#7297c6"/>
<rect x="251.20" y="272.78" width="12.05" height="5.51" fill="#e9b29a"/>
<rect x="263.20" y="272.78" width="12.05" height="5.51" fill="#f9f5ed"/>
<rect x="275.20" y="272.78" width="12.05" height="5.51" fill="#d47b5c"/>
<rect x="239.20" y="278.24" width="12.05" height="5.51" fill="#cdd6e4"/>
<rect x="251.20" y="278.24" width="12.05" height="5.51" fill="#f8f8f9"/>
<rect x="263.20" y="278.24" width="12.05" height="5.51" fill="#e2e5ec"/>
<rect x="275.20" y="278.24" width="12.05" height="5.51" fill="#f2ddd0"/>
<rect x="239.20" y="283.70" width="12.05" height="5.51" fill="#e2e5ec"/>
<rect x="251.20" y="283.70" width="12.05" height="5.51" fill="#f8f8f9"/>
<rect x="263.20" y="283.70" width="12.05" height="5.51" fill="#e2e5ec"/>
<rect x="275.20" y="283.70" width="12.05" height="5.51" fill="#e9b29a"/>
<rect x="239.20" y="289.16" width="12.05" height="5.51" fill="#d98b6d"/>
<rect x="251.20" y="289.16" width="12.05" height="5.51" fill="#f8f8f9"/>
<rect x="263.20" y="289.16" width="12.05" height="5.51" fill="#f9f5ed"/>
<rect x="275.20" y="289.16" width="12.05" height="5.51" fill="#adc4df"/>
<rect x="239.20" y="294.62" width="12.05" height="5.51" fill="#f2ddd0"/>
<rect x="251.20" y="294.62" width="12.05" height="5.51" fill="#e2e5ec"/>
<rect x="263.20" y="294.62" width="12.05" height="5.51" fill="#f9f5ed"/>
<rect x="275.20" y="294.62" width="12.05" height="5.51" fill="#adc4df"/>
<rect x="239.20" y="300.08" width="12.05" height="5.51" fill="#f8f8f9"/>
<rect x="251.20" y="300.08" width="12.05" height="5.51" fill="#cdd6e4"/>
<rect x="263.20" y="300.08" width="12.05" height="5.51" fill="#f9f5ed"/>
<rect x="275.20" y="300.08" width="12.05" height="5.51" fill="#adc4df"/>
<rect x="239.20" y="305.54" width="12.05" height="5.51" fill="#f9f5ed"/>
<rect x="251.20" y="305.54" width="12.05" height="5.51" fill="#e2e5ec"/>
<rect x="263.20" y="305.54" width="12.05" height="5.51" fill="#f9f5ed"/>
<rect x="275.20" y="305.54" width="12.05" height="5.51" fill="#adc4df"/>
<rect x="239.20" y="311.00" width="12.05" height="5.51" fill="#f9f5ed"/>
<rect x="251.20" y="311.00" width="12.05" height="5.51" fill="#e2e5ec"/>
<rect x="263.20" y="311.00" width="12.05" height="5.51" fill="#f9f5ed"/>
<rect x="275.20" y="311.00" width="12.05" height="5.51" fill="#adc4df"/>
<rect x="290.90" y="201.80" width="12.05" height="5.51" fill="#f8f8f9"/>
<rect x="302.90" y="201.80" width="12.05" height="5.51" fill="#f8f8f9"/>
<rect x="314.90" y="201.80" width="12.05" height="5.51" fill="#f8f8f9"/>
<rect x="326.90" y="201.80" width="12.05" height="5.51" fill="#f8f8f9"/>
<rect x="290.90" y="207.26" width="12.05" height="5.51" fill="#f8f8f9"/>
<rect x="302.90" y="207.26" width="12.05" height="5.51" fill="#f8f8f9"/>
<rect x="314.90" y="207.26" width="12.05" height="5.51" fill="#f8f8f9"/>
<rect x="326.90" y="207.26" width="12.05" height="5.51" fill="#f8f8f9"/>
<rect x="290.90" y="212.72" width="12.05" height="5.51" fill="#f9f5ed"/>
<rect x="302.90" y="212.72" width="12.05" height="5.51" fill="#f2ddd0"/>
<rect x="314.90" y="212.72" width="12.05" height="5.51" fill="#e2e5ec"/>
<rect x="326.90" y="212.72" width="12.05" height="5.51" fill="#e2e5ec"/>
<rect x="290.90" y="218.18" width="12.05" height="5.51" fill="#cdd6e4"/>
<rect x="302.90" y="218.18" width="12.05" height="5.51" fill="#e2e5ec"/>
<rect x="314.90" y="218.18" width="12.05" height="5.51" fill="#c75b3f"/>
<rect x="326.90" y="218.18" width="12.05" height="5.51" fill="#cdd6e4"/>
<rect x="290.90" y="223.64" width="12.05" height="5.51" fill="#f2ddd0"/>
<rect x="302.90" y="223.64" width="12.05" height="5.51" fill="#f2ddd0"/>
<rect x="314.90" y="223.64" width="12.05" height="5.51" fill="#f8f8f9"/>
<rect x="326.90" y="223.64" width="12.05" height="5.51" fill="#e2e5ec"/>
<rect x="290.90" y="229.10" width="12.05" height="5.51" fill="#f8f8f9"/>
<rect x="302.90" y="229.10" width="12.05" height="5.51" fill="#f8f8f9"/>
<rect x="314.90" y="229.10" width="12.05" height="5.51" fill="#f8f8f9"/>
<rect x="326.90" y="229.10" width="12.05" height="5.51" fill="#f8f8f9"/>
<rect x="290.90" y="234.56" width="12.05" height="5.51" fill="#f2ddd0"/>
<rect x="302.90" y="234.56" width="12.05" height="5.51" fill="#f2ddd0"/>
<rect x="314.90" y="234.56" width="12.05" height="5.51" fill="#f2ddd0"/>
<rect x="326.90" y="234.56" width="12.05" height="5.51" fill="#f9f5ed"/>
<rect x="290.90" y="240.02" width="12.05" height="5.51" fill="#f2ddd0"/>
<rect x="302.90" y="240.02" width="12.05" height="5.51" fill="#f2ddd0"/>
<rect x="314.90" y="240.02" width="12.05" height="5.51" fill="#f2ddd0"/>
<rect x="326.90" y="240.02" width="12.05" height="5.51" fill="#f9f5ed"/>
<rect x="290.90" y="245.48" width="12.05" height="5.51" fill="#f2ddd0"/>
<rect x="302.90" y="245.48" width="12.05" height="5.51" fill="#f2ddd0"/>
<rect x="314.90" y="245.48" width="12.05" height="5.51" fill="#f2ddd0"/>
<rect x="326.90" y="245.48" width="12.05" height="5.51" fill="#f9f5ed"/>
<rect x="290.90" y="250.94" width="12.05" height="5.51" fill="#f2ddd0"/>
<rect x="302.90" y="250.94" width="12.05" height="5.51" fill="#f2ddd0"/>
<rect x="314.90" y="250.94" width="12.05" height="5.51" fill="#f2ddd0"/>
<rect x="326.90" y="250.94" width="12.05" height="5.51" fill="#f9f5ed"/>
<rect x="290.90" y="256.40" width="12.05" height="5.51" fill="#f2ddd0"/>
<rect x="302.90" y="256.40" width="12.05" height="5.51" fill="#f2ddd0"/>
<rect x="314.90" y="256.40" width="12.05" height="5.51" fill="#f2ddd0"/>
<rect x="326.90" y="256.40" width="12.05" height="5.51" fill="#f9f5ed"/>
<rect x="290.90" y="261.86" width="12.05" height="5.51" fill="#f2ddd0"/>
<rect x="302.90" y="261.86" width="12.05" height="5.51" fill="#f2ddd0"/>
<rect x="314.90" y="261.86" width="12.05" height="5.51" fill="#f2ddd0"/>
<rect x="326.90" y="261.86" width="12.05" height="5.51" fill="#f9f5ed"/>
<rect x="290.90" y="267.32" width="12.05" height="5.51" fill="#f9f5ed"/>
<rect x="302.90" y="267.32" width="12.05" height="5.51" fill="#f9f5ed"/>
<rect x="314.90" y="267.32" width="12.05" height="5.51" fill="#f9f5ed"/>
<rect x="326.90" y="267.32" width="12.05" height="5.51" fill="#f9f5ed"/>
<rect x="290.90" y="272.78" width="12.05" height="5.51" fill="#cdd6e4"/>
<rect x="302.90" y="272.78" width="12.05" height="5.51" fill="#cdd6e4"/>
<rect x="314.90" y="272.78" width="12.05" height="5.51" fill="#f8f8f9"/>
<rect x="326.90" y="272.78" width="12.05" height="5.51" fill="#f2ddd0"/>
<rect x="290.90" y="278.24" width="12.05" height="5.51" fill="#cdd6e4"/>
<rect x="302.90" y="278.24" width="12.05" height="5.51" fill="#e2e5ec"/>
<rect x="314.90" y="278.24" width="12.05" height="5.51" fill="#f8f8f9"/>
<rect x="326.90" y="278.24" width="12.05" height="5.51" fill="#f2ddd0"/>
<rect x="290.90" y="283.70" width="12.05" height="5.51" fill="#cdd6e4"/>
<rect x="302.90" y="283.70" width="12.05" height="5.51" fill="#cdd6e4"/>
<rect x="314.90" y="283.70" width="12.05" height="5.51" fill="#f9f5ed"/>
<rect x="326.90" y="283.70" width="12.05" height="5.51" fill="#f2ddd0"/>
<rect x="290.90" y="289.16" width="12.05" height="5.51" fill="#cdd6e4"/>
<rect x="302.90" y="289.16" width="12.05" height="5.51" fill="#e2e5ec"/>
<rect x="314.90" y="289.16" width="12.05" height="5.51" fill="#f8f8f9"/>
<rect x="326.90" y="289.16" width="12.05" height="5.51" fill="#f2ddd0"/>
<rect x="290.90" y="294.62" width="12.05" height="5.51" fill="#cdd6e4"/>
<rect x="302.90" y="294.62" width="12.05" height="5.51" fill="#cdd6e4"/>
<rect x="314.90" y="294.62" width="12.05" height="5.51" fill="#f8f8f9"/>
<rect x="326.90" y="294.62" width="12.05" height="5.51" fill="#f2ddd0"/>
<rect x="290.90" y="300.08" width="12.05" height="5.51" fill="#cdd6e4"/>
<rect x="302.90" y="300.08" width="12.05" height="5.51" fill="#e2e5ec"/>
<rect x="314.90" y="300.08" width="12.05" height="5.51" fill="#f8f8f9"/>
<rect x="326.90" y="300.08" width="12.05" height="5.51" fill="#f2ddd0"/>
<rect x="290.90" y="305.54" width="12.05" height="5.51" fill="#cdd6e4"/>
<rect x="302.90" y="305.54" width="12.05" height="5.51" fill="#cdd6e4"/>
<rect x="314.90" y="305.54" width="12.05" height="5.51" fill="#e2e5ec"/>
<rect x="326.90" y="305.54" width="12.05" height="5.51" fill="#f2ddd0"/>
<rect x="290.90" y="311.00" width="12.05" height="5.51" fill="#adc4df"/>
<rect x="302.90" y="311.00" width="12.05" height="5.51" fill="#cdd6e4"/>
<rect x="314.90" y="311.00" width="12.05" height="5.51" fill="#e2e5ec"/>
<rect x="326.90" y="311.00" width="12.05" height="5.51" fill="#f2ddd0"/>
</g>
<path d="M39.20 201.80V192.00H63.40V201.80" fill="none" stroke="#2a2a2a" stroke-width="0.9"/>
<line x1="51.30" y1="192.00" x2="51.30" y2="201.80" stroke="#2a2a2a" stroke-width="0.9"/>
<path d="M47.90 192.00V182.00H74.80V201.80" fill="none" stroke="#d5705a" stroke-width="0.9"/>
<path d="M102.30 201.80V194.20H114.40V201.80" fill="none" stroke="#2a2a2a" stroke-width="0.9"/>
<path d="M108.50 194.20V186.50H126.70V201.80" fill="none" stroke="#2a2a2a" stroke-width="0.9"/>
<path d="M90.40 201.80V181.50H117.50V186.50" fill="none" stroke="#d5705a" stroke-width="0.9"/>
<path d="M141.20 201.80V191.30H151.00V201.80" fill="none" stroke="#2a2a2a" stroke-width="0.9"/>
<path d="M160.60 201.80V191.30H170.10V201.80" fill="none" stroke="#2a2a2a" stroke-width="0.9"/>
<path d="M146.40 191.30V188.80H165.40V191.30" fill="none" stroke="#2a2a2a" stroke-width="0.9"/>
<path d="M155.60 188.80V181.50H179.90V201.80" fill="none" stroke="#d5705a" stroke-width="0.9"/>
<path d="M205.50 201.80V185.10H217.60V201.80" fill="none" stroke="#2a2a2a" stroke-width="0.9"/>
<path d="M193.60 201.80V182.10H229.70V201.80" fill="none" stroke="#d5705a" stroke-width="0.9"/>
<line x1="211.80" y1="182.10" x2="211.80" y2="185.10" stroke="#d5705a" stroke-width="0.9"/>
<path d="M257.10 201.80V190.80H269.20V201.80" fill="none" stroke="#2a2a2a" stroke-width="0.9"/>
<path d="M263.40 190.80V188.20H281.30V201.80" fill="none" stroke="#2a2a2a" stroke-width="0.9"/>
<path d="M245.20 201.80V181.30H272.30V188.20" fill="none" stroke="#d5705a" stroke-width="0.9"/>
<path d="M296.50 201.80V197.30H308.90V201.80" fill="none" stroke="#2a2a2a" stroke-width="0.9"/>
<path d="M302.50 197.30V185.60H320.50V201.80" fill="none" stroke="#2a2a2a" stroke-width="0.9"/>
<path d="M311.80 185.60V181.80H332.50V201.80" fill="none" stroke="#2a2a2a" stroke-width="0.9"/>
<text x="341.80" y="206.63" font-size="5.6" textLength="62.20" lengthAdjust="spacingAndGlyphs">HDACs deacetylate histones</text>
<text x="341.80" y="212.09" font-size="5.6" textLength="52.20" lengthAdjust="spacingAndGlyphs">HATs acetylate histones</text>
<text x="341.80" y="217.55" font-size="5.6" textLength="63.50" lengthAdjust="spacingAndGlyphs">Lysosome Vesicle Biogenesis</text>
<text x="341.80" y="223.01" font-size="5.6" textLength="49.50" lengthAdjust="spacingAndGlyphs">Metalloprotease DUBs</text>
<text x="341.80" y="228.47" font-size="5.6" textLength="77.60" lengthAdjust="spacingAndGlyphs">Golgi Associated Vesicle Biogenesis</text>
<text x="341.80" y="233.93" font-size="5.6" textLength="52.20" lengthAdjust="spacingAndGlyphs">Developmental Biology</text>
<text x="341.80" y="239.39" font-size="5.6" textLength="24.20" lengthAdjust="spacingAndGlyphs">Translation</text>
<text x="341.80" y="244.85" font-size="5.6" textLength="123.40" lengthAdjust="spacingAndGlyphs">GTP hydrolysis and joining of the 60S ribosomal subunit</text>
<text x="341.80" y="250.31" font-size="5.6" textLength="87.80" lengthAdjust="spacingAndGlyphs">Formation of a pool of free 40S subunits</text>
<text x="341.80" y="255.77" font-size="5.6" textLength="148.70" lengthAdjust="spacingAndGlyphs">L13a–mediated translational silencing of Ceruloplasmin expression</text>
<text x="341.80" y="261.23" font-size="5.6" textLength="67.10" lengthAdjust="spacingAndGlyphs">Eukaryotic Translation Initiation</text>
<text x="341.80" y="266.69" font-size="5.6" textLength="82.90" lengthAdjust="spacingAndGlyphs">Cap–dependent Translation Initiation</text>
<text x="341.80" y="272.15" font-size="5.6" textLength="100.50" lengthAdjust="spacingAndGlyphs">Processing of DNA double–strand break ends</text>
<text x="341.80" y="277.61" font-size="5.6" textLength="51.60" lengthAdjust="spacingAndGlyphs">Metabolism of proteins</text>
<text x="341.80" y="283.07" font-size="5.6" textLength="51.60" lengthAdjust="spacingAndGlyphs">Interleukin–2 signaling</text>
<text x="341.80" y="288.53" font-size="5.6" textLength="36.40" lengthAdjust="spacingAndGlyphs">PCP/CE pathway</text>
<text x="341.80" y="293.99" font-size="5.6" textLength="40.20" lengthAdjust="spacingAndGlyphs">Signaling by EGFR</text>
<text x="341.80" y="299.45" font-size="5.6" textLength="33.20" lengthAdjust="spacingAndGlyphs">mRNA Splicing</text>
<text x="341.80" y="304.91" font-size="5.6" textLength="66.60" lengthAdjust="spacingAndGlyphs">Respiratory electron transport</text>
<text x="341.80" y="310.37" font-size="5.6" textLength="132.20" lengthAdjust="spacingAndGlyphs">The citric acid (TCA) cycle and respiratory electron transport</text>
<text x="341.80" y="315.83" font-size="5.6" textLength="158.30" lengthAdjust="spacingAndGlyphs">Respiratory electron transport, ATP synthesis by chemiosmotic coupling</text>
<text x="39.20" y="322.20" font-size="5.0" text-anchor="end" textLength="35.38" lengthAdjust="spacingAndGlyphs" transform="rotate(-45 39.20 322.20)">LPM021 Clone.2</text>
<text x="51.20" y="322.20" font-size="5.0" text-anchor="end" textLength="35.38" lengthAdjust="spacingAndGlyphs" transform="rotate(-45 51.20 322.20)">LPM021 Clone.3</text>
<text x="63.20" y="322.20" font-size="5.0" text-anchor="end" textLength="35.38" lengthAdjust="spacingAndGlyphs" transform="rotate(-45 63.20 322.20)">LPM021 Clone.0</text>
<text x="75.20" y="322.20" font-size="5.0" text-anchor="end" textLength="35.38" lengthAdjust="spacingAndGlyphs" transform="rotate(-45 75.20 322.20)">LPM021 Clone.1</text>
<text x="90.80" y="322.20" font-size="5.0" text-anchor="end" textLength="33.45" lengthAdjust="spacingAndGlyphs" transform="rotate(-45 90.80 322.20)">LPJ119 Clone.3</text>
<text x="102.80" y="322.20" font-size="5.0" text-anchor="end" textLength="33.45" lengthAdjust="spacingAndGlyphs" transform="rotate(-45 102.80 322.20)">LPJ119 Clone.2</text>
<text x="114.80" y="322.20" font-size="5.0" text-anchor="end" textLength="33.45" lengthAdjust="spacingAndGlyphs" transform="rotate(-45 114.80 322.20)">LPJ119 Clone.0</text>
<text x="126.80" y="322.20" font-size="5.0" text-anchor="end" textLength="33.45" lengthAdjust="spacingAndGlyphs" transform="rotate(-45 126.80 322.20)">LPJ119 Clone.1</text>
<text x="142.00" y="322.20" font-size="5.0" text-anchor="end" textLength="35.03" lengthAdjust="spacingAndGlyphs" transform="rotate(-45 142.00 322.20)">LPM011 Clone.2</text>
<text x="151.60" y="322.20" font-size="5.0" text-anchor="end" textLength="35.03" lengthAdjust="spacingAndGlyphs" transform="rotate(-45 151.60 322.20)">LPM011 Clone.3</text>
<text x="161.20" y="322.20" font-size="5.0" text-anchor="end" textLength="35.03" lengthAdjust="spacingAndGlyphs" transform="rotate(-45 161.20 322.20)">LPM011 Clone.1</text>
<text x="170.80" y="322.20" font-size="5.0" text-anchor="end" textLength="35.03" lengthAdjust="spacingAndGlyphs" transform="rotate(-45 170.80 322.20)">LPM011 Clone.0</text>
<text x="180.40" y="322.20" font-size="5.0" text-anchor="end" textLength="35.03" lengthAdjust="spacingAndGlyphs" transform="rotate(-45 180.40 322.20)">LPM011 Clone.4</text>
<text x="194.10" y="322.20" font-size="5.0" text-anchor="end" textLength="35.38" lengthAdjust="spacingAndGlyphs" transform="rotate(-45 194.10 322.20)">LPM018 Clone.2</text>
<text x="206.10" y="322.20" font-size="5.0" text-anchor="end" textLength="35.38" lengthAdjust="spacingAndGlyphs" transform="rotate(-45 206.10 322.20)">LPM018 Clone.0</text>
<text x="218.10" y="322.20" font-size="5.0" text-anchor="end" textLength="35.38" lengthAdjust="spacingAndGlyphs" transform="rotate(-45 218.10 322.20)">LPM018 Clone.3</text>
<text x="230.10" y="322.20" font-size="5.0" text-anchor="end" textLength="35.38" lengthAdjust="spacingAndGlyphs" transform="rotate(-45 230.10 322.20)">LPM018 Clone.1</text>
<text x="245.40" y="322.20" font-size="5.0" text-anchor="end" textLength="35.38" lengthAdjust="spacingAndGlyphs" transform="rotate(-45 245.40 322.20)">LPM020 Clone.3</text>
<text x="257.40" y="322.20" font-size="5.0" text-anchor="end" textLength="35.38" lengthAdjust="spacingAndGlyphs" transform="rotate(-45 257.40 322.20)">LPM020 Clone.2</text>
<text x="269.40" y="322.20" font-size="5.0" text-anchor="end" textLength="35.38" lengthAdjust="spacingAndGlyphs" transform="rotate(-45 269.40 322.20)">LPM020 Clone.0</text>
<text x="281.40" y="322.20" font-size="5.0" text-anchor="end" textLength="35.38" lengthAdjust="spacingAndGlyphs" transform="rotate(-45 281.40 322.20)">LPM020 Clone.1</text>
<text x="297.10" y="322.20" font-size="5.0" text-anchor="end" textLength="36.71" lengthAdjust="spacingAndGlyphs" transform="rotate(-45 297.10 322.20)">LPJ128A Clone.3</text>
<text x="309.10" y="322.20" font-size="5.0" text-anchor="end" textLength="36.71" lengthAdjust="spacingAndGlyphs" transform="rotate(-45 309.10 322.20)">LPJ128A Clone.2</text>
<text x="321.10" y="322.20" font-size="5.0" text-anchor="end" textLength="36.71" lengthAdjust="spacingAndGlyphs" transform="rotate(-45 321.10 322.20)">LPJ128A Clone.1</text>
<text x="333.10" y="322.20" font-size="5.0" text-anchor="end" textLength="36.71" lengthAdjust="spacingAndGlyphs" transform="rotate(-45 333.10 322.20)">LPJ128A Clone.0</text>
<text x="348.40" y="179.50" font-size="8.4" text-anchor="middle" textLength="19.00" lengthAdjust="spacingAndGlyphs" transform="rotate(-90 348.40 179.50)" stroke="#231f20" stroke-width="0.12">Count</text>
<rect x="364.90" y="172.00" width="3.60" height="15.40" fill="#2b4a8a" shape-rendering="crispEdges"/>
<rect x="368.45" y="172.00" width="3.60" height="15.40" fill="#3a62a2" shape-rendering="crispEdges"/>
<rect x="371.99" y="172.00" width="3.60" height="15.40" fill="#4c76b3" shape-rendering="crispEdges"/>
<rect x="375.54" y="172.00" width="3.60" height="15.40" fill="#6089c0" shape-rendering="crispEdges"/>
<rect x="379.09" y="172.00" width="3.60" height="15.40" fill="#7a9ecc" shape-rendering="crispEdges"/>
<rect x="382.64" y="172.00" width="3.60" height="15.40" fill="#98b5d9" shape-rendering="crispEdges"/>
<rect x="386.18" y="172.00" width="3.60" height="15.40" fill="#b8cce4" shape-rendering="crispEdges"/>
<rect x="389.73" y="172.00" width="3.60" height="15.40" fill="#d6e0ee" shape-rendering="crispEdges"/>
<rect x="393.28" y="172.00" width="3.60" height="15.40" fill="#eef1f5" shape-rendering="crispEdges"/>
<rect x="396.83" y="172.00" width="3.60" height="15.40" fill="#f9f5f2" shape-rendering="crispEdges"/>
<rect x="400.37" y="172.00" width="3.60" height="15.40" fill="#f7e3d8" shape-rendering="crispEdges"/>
<rect x="403.92" y="172.00" width="3.60" height="15.40" fill="#f0c9b4" shape-rendering="crispEdges"/>
<rect x="407.47" y="172.00" width="3.60" height="15.40" fill="#e6a88e" shape-rendering="crispEdges"/>
<rect x="411.02" y="172.00" width="3.60" height="15.40" fill="#db876b" shape-rendering="crispEdges"/>
<rect x="414.56" y="172.00" width="3.60" height="15.40" fill="#cf6a52" shape-rendering="crispEdges"/>
<rect x="418.11" y="172.00" width="3.60" height="15.40" fill="#bd4f40" shape-rendering="crispEdges"/>
<rect x="421.66" y="172.00" width="3.60" height="15.40" fill="#a53a36" shape-rendering="crispEdges"/>
<rect x="425.21" y="172.00" width="3.60" height="15.40" fill="#8a2b2d" shape-rendering="crispEdges"/>
<rect x="428.75" y="172.00" width="3.60" height="15.40" fill="#6a1e24" shape-rendering="crispEdges"/>
<rect x="364.9" y="172.0" width="67.40" height="15.400000000000006" fill="none" stroke="#333" stroke-width="0.8"/>
<path d="M384.5 187V184.5H388V180.5H391.5V176.5H395V173.5H402.5V177H405.8V181.5H408V187" fill="none" stroke="#9fb4b8" stroke-width="0.6"/>
<text x="398.40" y="168.00" font-size="5.0" text-anchor="middle" textLength="44.30" lengthAdjust="spacingAndGlyphs">Relative enrichment</text>
<text x="359.50" y="181.00" font-size="5.0" text-anchor="end">60</text>
<text x="359.50" y="188.70" font-size="5.0" text-anchor="end">0</text>
<line x1="362.00" y1="173.50" x2="364.90" y2="173.50" stroke="#333" stroke-width="0.6"/>
<line x1="362.00" y1="175.50" x2="364.90" y2="175.50" stroke="#333" stroke-width="0.6"/>
<line x1="362.00" y1="177.50" x2="364.90" y2="177.50" stroke="#333" stroke-width="0.6"/>
<line x1="362.00" y1="179.20" x2="364.90" y2="179.20" stroke="#333" stroke-width="0.6"/>
<line x1="362.00" y1="181.50" x2="364.90" y2="181.50" stroke="#333" stroke-width="0.6"/>
<line x1="362.00" y1="183.50" x2="364.90" y2="183.50" stroke="#333" stroke-width="0.6"/>
<line x1="362.00" y1="186.90" x2="364.90" y2="186.90" stroke="#333" stroke-width="0.6"/>
<line x1="379.20" y1="186.90" x2="379.20" y2="189.00" stroke="#333" stroke-width="0.6"/>
<text x="379.20" y="197.60" font-size="5.0" text-anchor="middle">–0.5</text>
<line x1="398.50" y1="186.90" x2="398.50" y2="189.00" stroke="#333" stroke-width="0.6"/>
<text x="398.50" y="197.60" font-size="5.0" text-anchor="middle">0</text>
<line x1="418.50" y1="186.90" x2="418.50" y2="189.00" stroke="#333" stroke-width="0.6"/>
<text x="418.50" y="197.60" font-size="5.0" text-anchor="middle">0.5</text>
<rect x="0" y="0" width="520" height="1.4" fill="#2e2e2e"/><rect x="0" y="0" width="1.1" height="359" fill="#1e1e1e"/><rect x="518.3" y="0" width="1.7" height="359" fill="#4a4a4a"/><rect x="0" y="357" width="520" height="2" fill="#4a4a4a"/>
</svg>
</body></html>
